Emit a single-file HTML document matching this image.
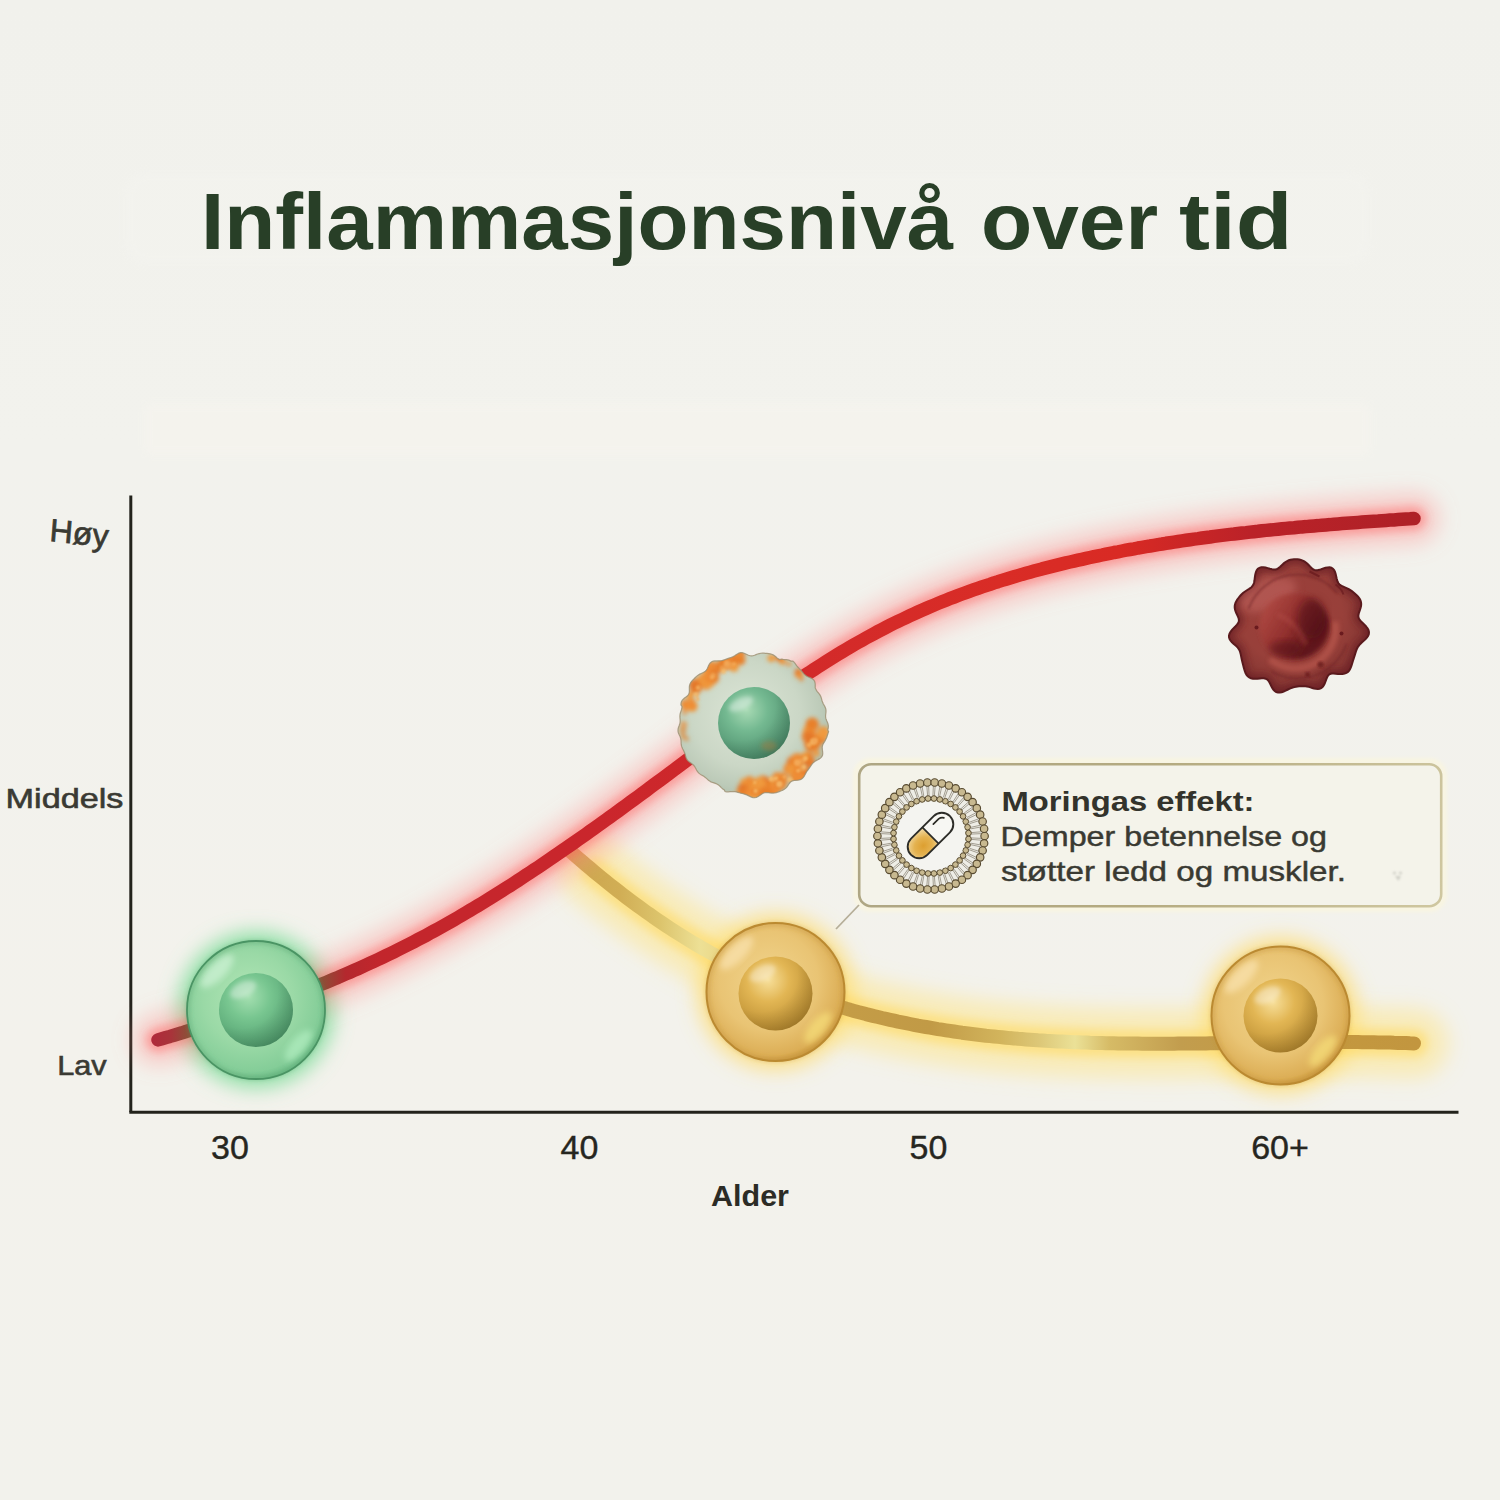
<!DOCTYPE html>
<html><head><meta charset="utf-8"><title>Inflammasjonsnivå over tid</title>
<style>
html,body{margin:0;padding:0;background:#f2f2ec;}
body{width:1500px;height:1500px;overflow:hidden;}
svg{display:block;}
text{font-family:"Liberation Sans",sans-serif;}
</style></head><body>
<svg width="1500" height="1500" viewBox="0 0 1500 1500">
<defs>
<filter id="blur12" x="-50%" y="-50%" width="200%" height="200%"><feGaussianBlur stdDeviation="10"/></filter>
<filter id="blur6" x="-20%" y="-20%" width="140%" height="140%"><feGaussianBlur stdDeviation="6"/></filter>
<filter id="blur3" x="-20%" y="-20%" width="140%" height="140%"><feGaussianBlur stdDeviation="3"/></filter>
<filter id="blur4" x="-20%" y="-20%" width="140%" height="140%"><feGaussianBlur stdDeviation="4"/></filter>
<filter id="blur1" x="-20%" y="-20%" width="140%" height="140%"><feGaussianBlur stdDeviation="1"/></filter>
<filter id="blurB1" x="-50%" y="-50%" width="200%" height="200%"><feGaussianBlur stdDeviation="0.8"/></filter>
<filter id="blurB2" x="-50%" y="-50%" width="200%" height="200%"><feGaussianBlur stdDeviation="2"/></filter>
<filter id="blur2" x="-50%" y="-50%" width="200%" height="200%"><feGaussianBlur stdDeviation="2"/></filter>
<linearGradient id="goldLine" gradientUnits="userSpaceOnUse" x1="570" y1="0" x2="1420" y2="0"><stop offset="0.000" stop-color="#cba54c"/><stop offset="0.059" stop-color="#d1ae55"/><stop offset="0.106" stop-color="#dcc46c"/><stop offset="0.153" stop-color="#ede095"/><stop offset="0.224" stop-color="#e6c76c"/><stop offset="0.329" stop-color="#c49c46"/><stop offset="0.424" stop-color="#c19a46"/><stop offset="0.506" stop-color="#d2b45c"/><stop offset="0.553" stop-color="#ddc878"/><stop offset="0.594" stop-color="#ebe197"/><stop offset="0.635" stop-color="#d6bb66"/><stop offset="0.718" stop-color="#c29d4e"/><stop offset="0.859" stop-color="#c4983e"/><stop offset="1.000" stop-color="#c2963f"/></linearGradient>
<linearGradient id="redLine" gradientUnits="userSpaceOnUse" x1="150" y1="0" x2="1420" y2="0"><stop offset="0.000" stop-color="#b1283a"/><stop offset="0.017" stop-color="#a8343a"/><stop offset="0.030" stop-color="#8d5038"/><stop offset="0.134" stop-color="#8a5238"/><stop offset="0.154" stop-color="#b4282e"/><stop offset="0.181" stop-color="#c2262c"/><stop offset="0.354" stop-color="#ca262c"/><stop offset="0.512" stop-color="#d22a2a"/><stop offset="0.669" stop-color="#d92c26"/><stop offset="0.764" stop-color="#d92a24"/><stop offset="0.866" stop-color="#bb2228"/><stop offset="1.000" stop-color="#ae2127"/></linearGradient>
<linearGradient id="boxStroke" gradientUnits="userSpaceOnUse" x1="859" y1="764" x2="1441" y2="906">
<stop offset="0" stop-color="#aea684"/><stop offset="0.5" stop-color="#b4aa80"/><stop offset="1" stop-color="#cfc7a0"/>
</linearGradient>
<radialGradient id="capg" cx="0.55" cy="0.6" r="0.7">
<stop offset="0" stop-color="#dd9f30"/><stop offset="0.5" stop-color="#e4b250"/><stop offset="1" stop-color="#f2dba6"/>
</radialGradient>
<linearGradient id="bgGrad" x1="0" y1="0" x2="0" y2="1">
<stop offset="0" stop-color="#f1f1ec"/><stop offset="0.3" stop-color="#f2f2ed"/><stop offset="0.7" stop-color="#f3f2ec"/><stop offset="1" stop-color="#f2f2ec"/>
</linearGradient>
<radialGradient id="nucShade" cx="0.3" cy="0.25" r="0.9">
<stop offset="0.55" stop-color="#000" stop-opacity="0"/><stop offset="1" stop-color="#000" stop-opacity="0.18"/>
</radialGradient>
<radialGradient id="gOuter" cx="0.45" cy="0.42" r="0.6">
<stop offset="0" stop-color="#b2e6b6"/><stop offset="0.55" stop-color="#9ad9a6"/><stop offset="0.88" stop-color="#84cd98"/><stop offset="1" stop-color="#6cbc86"/>
</radialGradient>
<radialGradient id="gNuc" cx="0.4" cy="0.32" r="0.72">
<stop offset="0" stop-color="#a4dfb0"/><stop offset="0.4" stop-color="#78c690"/><stop offset="1" stop-color="#4f9d6d"/>
</radialGradient>
<radialGradient id="oOuter" cx="0.45" cy="0.42" r="0.6">
<stop offset="0" stop-color="#dce5d6"/><stop offset="0.6" stop-color="#cbd7c6"/><stop offset="0.85" stop-color="#bccab8"/><stop offset="1" stop-color="#aebdaa"/>
</radialGradient>
<radialGradient id="oNuc" cx="0.4" cy="0.32" r="0.72">
<stop offset="0" stop-color="#a8dab4"/><stop offset="0.4" stop-color="#74b991"/><stop offset="1" stop-color="#4a8c6a"/>
</radialGradient>
<radialGradient id="yOuter" cx="0.45" cy="0.42" r="0.6">
<stop offset="0" stop-color="#f1d48c"/><stop offset="0.6" stop-color="#e9c474"/><stop offset="0.9" stop-color="#dcae56"/><stop offset="1" stop-color="#c9973c"/>
</radialGradient>
<radialGradient id="yNuc" cx="0.4" cy="0.32" r="0.72">
<stop offset="0" stop-color="#f7df9a"/><stop offset="0.4" stop-color="#e2b654"/><stop offset="1" stop-color="#b88a2e"/>
</radialGradient>
<radialGradient id="rCell" cx="0.45" cy="0.42" r="0.6">
<stop offset="0" stop-color="#9c3e3a"/><stop offset="0.6" stop-color="#98403a"/><stop offset="0.85" stop-color="#883834"/><stop offset="1" stop-color="#72282a"/>
</radialGradient>
<linearGradient id="rCrater" x1="0" y1="0.2" x2="1" y2="0.8">
<stop offset="0" stop-color="#b24c44"/><stop offset="0.45" stop-color="#92302e"/><stop offset="0.8" stop-color="#5e161a"/><stop offset="1" stop-color="#6e1e20"/>
</linearGradient>
<radialGradient id="rNuc" cx="0.55" cy="0.45" r="0.6">
<stop offset="0" stop-color="#6e1b1f"/><stop offset="0.7" stop-color="#7f2629"/><stop offset="1" stop-color="#9a4042"/>
</radialGradient>
</defs>
<rect x="0" y="0" width="1500" height="1500" fill="url(#bgGrad)"/>
<rect x="125" y="172" width="1245" height="92" rx="20" fill="#f5f5f1" opacity="0.35" filter="url(#blur4)"/>
<rect x="145" y="404" width="1225" height="50" fill="#f8f5ef" opacity="0.45" filter="url(#blur4)"/>

<g font-size="80" font-weight="bold" fill="#283f27"><text x="201" y="249" textLength="752.1" lengthAdjust="spacingAndGlyphs">Inflammasjonsnivå</text> <text x="981" y="249" textLength="177.1" lengthAdjust="spacingAndGlyphs">over</text> <text x="1179" y="249" textLength="113.7" lengthAdjust="spacingAndGlyphs">tid</text></g>

<!-- axes -->
<line x1="130.8" y1="495.5" x2="130.8" y2="1112" stroke="#23231c" stroke-width="3"/>
<line x1="129.3" y1="1112.2" x2="1458.5" y2="1112.2" stroke="#23231c" stroke-width="3"/>

<!-- y labels -->
<g transform="translate(49 541) rotate(6) skewX(1.5)"><text x="0" y="0" font-size="32" fill="#3a3a33" stroke="#3a3a33" stroke-width="0.7" textLength="59" lengthAdjust="spacingAndGlyphs">Høy</text></g>
<text x="5.5" y="808" font-size="28.5" fill="#3a3a33" stroke="#3a3a33" stroke-width="0.6" textLength="118" lengthAdjust="spacingAndGlyphs">Middels</text>
<text x="57.2" y="1075" font-size="28" fill="#3a3a33" stroke="#3a3a33" stroke-width="0.6" textLength="49.5" lengthAdjust="spacingAndGlyphs">Lav</text>

<!-- x labels -->
<text x="230" y="1159" font-size="34" fill="#262620" stroke="#262620" stroke-width="0.4" text-anchor="middle">30</text>
<text x="579.5" y="1159" font-size="34" fill="#262620" stroke="#262620" stroke-width="0.4" text-anchor="middle">40</text>
<text x="928.5" y="1159" font-size="34" fill="#262620" stroke="#262620" stroke-width="0.4" text-anchor="middle">50</text>
<text x="1280" y="1159" font-size="34" fill="#262620" stroke="#262620" stroke-width="0.4" text-anchor="middle">60+</text>
<text x="750" y="1206" font-size="29" font-weight="bold" fill="#2c2c26" text-anchor="middle" textLength="78" lengthAdjust="spacingAndGlyphs">Alder</text>

<!-- glows -->
<circle cx="256" cy="1010" r="78" fill="#6fd98f" fill-opacity="0.75" filter="url(#blur12)"/>
<circle cx="775.5" cy="992" r="78" fill="#ffd862" fill-opacity="0.7" filter="url(#blur12)"/>
<circle cx="1280.5" cy="1015.5" r="78" fill="#ffd862" fill-opacity="0.7" filter="url(#blur12)"/>

<!-- gold curve -->
<path d="M594.0,871.6 L598.0,874.9 L602.0,878.1 L606.0,881.4 L610.0,884.6 L614.0,887.8 L618.0,890.9 L622.0,894.0 L626.0,897.1 L630.0,900.1 L634.0,903.1 L638.0,906.0 L642.0,908.9 L646.0,911.8 L650.0,914.6 L654.0,917.4 L658.0,920.2 L662.0,922.9 L666.0,925.6 L670.0,928.3 L674.0,930.9 L678.0,933.4 L682.0,935.9 L686.0,938.4 L690.0,940.9 L694.0,943.3 L698.0,945.6 L702.0,948.0 L706.0,950.2 L710.0,952.5 L714.0,954.7 L718.0,956.9 L722.0,959.0 L726.0,961.1 L730.0,963.1 L734.0,965.2 L738.0,967.2 L742.0,969.1 L746.0,971.0 L750.0,972.9 L754.0,974.7 L758.0,976.6 L762.0,978.3 L766.0,980.1 L770.0,981.8 L774.0,983.5 L778.0,985.1 L782.0,986.7 L786.0,988.3 L790.0,989.9 L794.0,991.4 L798.0,992.9 L802.0,994.4 L806.0,995.8 L810.0,997.2 L814.0,998.6 L818.0,999.9 L822.0,1001.3 L826.0,1002.5 L830.0,1003.8 L834.0,1005.1 L838.0,1006.3 L842.0,1007.5 L846.0,1008.6 L850.0,1009.8 L854.0,1010.9 L858.0,1012.0 L862.0,1013.0 L866.0,1014.1 L870.0,1015.1 L874.0,1016.1 L878.0,1017.0 L882.0,1018.0 L886.0,1018.9 L890.0,1019.8 L894.0,1020.7 L898.0,1021.6 L902.0,1022.4 L906.0,1023.2 L910.0,1024.0 L914.0,1024.8 L918.0,1025.6 L922.0,1026.3 L926.0,1027.0 L930.0,1027.7 L934.0,1028.4 L938.0,1029.1 L942.0,1029.7 L946.0,1030.3 L950.0,1030.9 L954.0,1031.5 L958.0,1032.1 L962.0,1032.7 L966.0,1033.2 L970.0,1033.7 L974.0,1034.2 L978.0,1034.7 L982.0,1035.2 L986.0,1035.7 L990.0,1036.1 L994.0,1036.5 L998.0,1036.9 L1002.0,1037.3 L1006.0,1037.7 L1010.0,1038.1 L1014.0,1038.4 L1018.0,1038.8 L1022.0,1039.1 L1026.0,1039.4 L1030.0,1039.7 L1034.0,1040.0 L1038.0,1040.3 L1042.0,1040.5 L1046.0,1040.8 L1050.0,1041.0 L1054.0,1041.2 L1058.0,1041.4 L1062.0,1041.6 L1066.0,1041.8 L1070.0,1042.0 L1074.0,1042.2 L1078.0,1042.3 L1082.0,1042.5 L1086.0,1042.6 L1090.0,1042.8 L1094.0,1042.9 L1098.0,1043.0 L1102.0,1043.1 L1106.0,1043.2 L1110.0,1043.3 L1114.0,1043.3 L1118.0,1043.4 L1122.0,1043.5 L1126.0,1043.5 L1130.0,1043.6 L1134.0,1043.6 L1138.0,1043.6 L1142.0,1043.7 L1146.0,1043.7 L1150.0,1043.7 L1154.0,1043.7 L1158.0,1043.7 L1162.0,1043.7 L1166.0,1043.7 L1170.0,1043.7 L1174.0,1043.7 L1178.0,1043.6 L1182.0,1043.6 L1186.0,1043.6 L1190.0,1043.6 L1194.0,1043.5 L1198.0,1043.5 L1202.0,1043.4 L1206.0,1043.4 L1210.0,1043.3 L1214.0,1043.3 L1218.0,1043.2 L1222.0,1043.2 L1226.0,1043.1 L1230.0,1043.1 L1234.0,1043.0 L1238.0,1043.0 L1242.0,1042.9 L1246.0,1042.8 L1250.0,1042.8 L1254.0,1042.7 L1258.0,1042.7 L1262.0,1042.6 L1266.0,1042.6 L1270.0,1042.5 L1274.0,1042.5 L1278.0,1042.4 L1282.0,1042.4 L1286.0,1042.3 L1290.0,1042.3 L1294.0,1042.2 L1298.0,1042.2 L1302.0,1042.1 L1306.0,1042.1 L1310.0,1042.1 L1314.0,1042.1 L1318.0,1042.0 L1322.0,1042.0 L1326.0,1042.0 L1330.0,1042.0 L1334.0,1042.0 L1338.0,1042.0 L1342.0,1042.0 L1346.0,1042.0 L1350.0,1042.1 L1354.0,1042.1 L1358.0,1042.1 L1362.0,1042.2 L1366.0,1042.2 L1370.0,1042.3 L1374.0,1042.3 L1378.0,1042.4 L1382.0,1042.5 L1386.0,1042.6 L1390.0,1042.6 L1394.0,1042.8 L1398.0,1042.9 L1402.0,1043.0 L1406.0,1043.1 L1410.0,1043.3 L1414.0,1043.4" fill="none" stroke="#ffe27a" stroke-opacity="0.45" stroke-width="70" stroke-linecap="round" stroke-linejoin="round" filter="url(#blur12)"/>
<path d="M594.0,871.6 L598.0,874.9 L602.0,878.1 L606.0,881.4 L610.0,884.6 L614.0,887.8 L618.0,890.9 L622.0,894.0 L626.0,897.1 L630.0,900.1 L634.0,903.1 L638.0,906.0 L642.0,908.9 L646.0,911.8 L650.0,914.6 L654.0,917.4 L658.0,920.2 L662.0,922.9 L666.0,925.6 L670.0,928.3 L674.0,930.9 L678.0,933.4 L682.0,935.9 L686.0,938.4 L690.0,940.9 L694.0,943.3 L698.0,945.6 L702.0,948.0 L706.0,950.2 L710.0,952.5 L714.0,954.7 L718.0,956.9 L722.0,959.0 L726.0,961.1 L730.0,963.1 L734.0,965.2 L738.0,967.2 L742.0,969.1 L746.0,971.0 L750.0,972.9 L754.0,974.7 L758.0,976.6 L762.0,978.3 L766.0,980.1 L770.0,981.8 L774.0,983.5 L778.0,985.1 L782.0,986.7 L786.0,988.3 L790.0,989.9 L794.0,991.4 L798.0,992.9 L802.0,994.4 L806.0,995.8 L810.0,997.2 L814.0,998.6 L818.0,999.9 L822.0,1001.3 L826.0,1002.5 L830.0,1003.8 L834.0,1005.1 L838.0,1006.3 L842.0,1007.5 L846.0,1008.6 L850.0,1009.8 L854.0,1010.9 L858.0,1012.0 L862.0,1013.0 L866.0,1014.1 L870.0,1015.1 L874.0,1016.1 L878.0,1017.0 L882.0,1018.0 L886.0,1018.9 L890.0,1019.8 L894.0,1020.7 L898.0,1021.6 L902.0,1022.4 L906.0,1023.2 L910.0,1024.0 L914.0,1024.8 L918.0,1025.6 L922.0,1026.3 L926.0,1027.0 L930.0,1027.7 L934.0,1028.4 L938.0,1029.1 L942.0,1029.7 L946.0,1030.3 L950.0,1030.9 L954.0,1031.5 L958.0,1032.1 L962.0,1032.7 L966.0,1033.2 L970.0,1033.7 L974.0,1034.2 L978.0,1034.7 L982.0,1035.2 L986.0,1035.7 L990.0,1036.1 L994.0,1036.5 L998.0,1036.9 L1002.0,1037.3 L1006.0,1037.7 L1010.0,1038.1 L1014.0,1038.4 L1018.0,1038.8 L1022.0,1039.1 L1026.0,1039.4 L1030.0,1039.7 L1034.0,1040.0 L1038.0,1040.3 L1042.0,1040.5 L1046.0,1040.8 L1050.0,1041.0 L1054.0,1041.2 L1058.0,1041.4 L1062.0,1041.6 L1066.0,1041.8 L1070.0,1042.0 L1074.0,1042.2 L1078.0,1042.3 L1082.0,1042.5 L1086.0,1042.6 L1090.0,1042.8 L1094.0,1042.9 L1098.0,1043.0 L1102.0,1043.1 L1106.0,1043.2 L1110.0,1043.3 L1114.0,1043.3 L1118.0,1043.4 L1122.0,1043.5 L1126.0,1043.5 L1130.0,1043.6 L1134.0,1043.6 L1138.0,1043.6 L1142.0,1043.7 L1146.0,1043.7 L1150.0,1043.7 L1154.0,1043.7 L1158.0,1043.7 L1162.0,1043.7 L1166.0,1043.7 L1170.0,1043.7 L1174.0,1043.7 L1178.0,1043.6 L1182.0,1043.6 L1186.0,1043.6 L1190.0,1043.6 L1194.0,1043.5 L1198.0,1043.5 L1202.0,1043.4 L1206.0,1043.4 L1210.0,1043.3 L1214.0,1043.3 L1218.0,1043.2 L1222.0,1043.2 L1226.0,1043.1 L1230.0,1043.1 L1234.0,1043.0 L1238.0,1043.0 L1242.0,1042.9 L1246.0,1042.8 L1250.0,1042.8 L1254.0,1042.7 L1258.0,1042.7 L1262.0,1042.6 L1266.0,1042.6 L1270.0,1042.5 L1274.0,1042.5 L1278.0,1042.4 L1282.0,1042.4 L1286.0,1042.3 L1290.0,1042.3 L1294.0,1042.2 L1298.0,1042.2 L1302.0,1042.1 L1306.0,1042.1 L1310.0,1042.1 L1314.0,1042.1 L1318.0,1042.0 L1322.0,1042.0 L1326.0,1042.0 L1330.0,1042.0 L1334.0,1042.0 L1338.0,1042.0 L1342.0,1042.0 L1346.0,1042.0 L1350.0,1042.1 L1354.0,1042.1 L1358.0,1042.1 L1362.0,1042.2 L1366.0,1042.2 L1370.0,1042.3 L1374.0,1042.3 L1378.0,1042.4 L1382.0,1042.5 L1386.0,1042.6 L1390.0,1042.6 L1394.0,1042.8 L1398.0,1042.9 L1402.0,1043.0 L1406.0,1043.1 L1410.0,1043.3 L1414.0,1043.4" fill="none" stroke="#ffd95e" stroke-opacity="0.55" stroke-width="28" stroke-linecap="round" stroke-linejoin="round" filter="url(#blur4)"/>
<path d="M570.0,851.0 L574.0,854.5 L578.0,858.0 L582.0,861.4 L586.0,864.8 L590.0,868.2 L594.0,871.6 L598.0,874.9 L602.0,878.1 L606.0,881.4 L610.0,884.6 L614.0,887.8 L618.0,890.9 L622.0,894.0 L626.0,897.1 L630.0,900.1 L634.0,903.1 L638.0,906.0 L642.0,908.9 L646.0,911.8 L650.0,914.6 L654.0,917.4 L658.0,920.2 L662.0,922.9 L666.0,925.6 L670.0,928.3 L674.0,930.9 L678.0,933.4 L682.0,935.9 L686.0,938.4 L690.0,940.9 L694.0,943.3 L698.0,945.6 L702.0,948.0 L706.0,950.2 L710.0,952.5 L714.0,954.7 L718.0,956.9 L722.0,959.0 L726.0,961.1 L730.0,963.1 L734.0,965.2 L738.0,967.2 L742.0,969.1 L746.0,971.0 L750.0,972.9 L754.0,974.7 L758.0,976.6 L762.0,978.3 L766.0,980.1 L770.0,981.8 L774.0,983.5 L778.0,985.1 L782.0,986.7 L786.0,988.3 L790.0,989.9 L794.0,991.4 L798.0,992.9 L802.0,994.4 L806.0,995.8 L810.0,997.2 L814.0,998.6 L818.0,999.9 L822.0,1001.3 L826.0,1002.5 L830.0,1003.8 L834.0,1005.1 L838.0,1006.3 L842.0,1007.5 L846.0,1008.6 L850.0,1009.8 L854.0,1010.9 L858.0,1012.0 L862.0,1013.0 L866.0,1014.1 L870.0,1015.1 L874.0,1016.1 L878.0,1017.0 L882.0,1018.0 L886.0,1018.9 L890.0,1019.8 L894.0,1020.7 L898.0,1021.6 L902.0,1022.4 L906.0,1023.2 L910.0,1024.0 L914.0,1024.8 L918.0,1025.6 L922.0,1026.3 L926.0,1027.0 L930.0,1027.7 L934.0,1028.4 L938.0,1029.1 L942.0,1029.7 L946.0,1030.3 L950.0,1030.9 L954.0,1031.5 L958.0,1032.1 L962.0,1032.7 L966.0,1033.2 L970.0,1033.7 L974.0,1034.2 L978.0,1034.7 L982.0,1035.2 L986.0,1035.7 L990.0,1036.1 L994.0,1036.5 L998.0,1036.9 L1002.0,1037.3 L1006.0,1037.7 L1010.0,1038.1 L1014.0,1038.4 L1018.0,1038.8 L1022.0,1039.1 L1026.0,1039.4 L1030.0,1039.7 L1034.0,1040.0 L1038.0,1040.3 L1042.0,1040.5 L1046.0,1040.8 L1050.0,1041.0 L1054.0,1041.2 L1058.0,1041.4 L1062.0,1041.6 L1066.0,1041.8 L1070.0,1042.0 L1074.0,1042.2 L1078.0,1042.3 L1082.0,1042.5 L1086.0,1042.6 L1090.0,1042.8 L1094.0,1042.9 L1098.0,1043.0 L1102.0,1043.1 L1106.0,1043.2 L1110.0,1043.3 L1114.0,1043.3 L1118.0,1043.4 L1122.0,1043.5 L1126.0,1043.5 L1130.0,1043.6 L1134.0,1043.6 L1138.0,1043.6 L1142.0,1043.7 L1146.0,1043.7 L1150.0,1043.7 L1154.0,1043.7 L1158.0,1043.7 L1162.0,1043.7 L1166.0,1043.7 L1170.0,1043.7 L1174.0,1043.7 L1178.0,1043.6 L1182.0,1043.6 L1186.0,1043.6 L1190.0,1043.6 L1194.0,1043.5 L1198.0,1043.5 L1202.0,1043.4 L1206.0,1043.4 L1210.0,1043.3 L1214.0,1043.3 L1218.0,1043.2 L1222.0,1043.2 L1226.0,1043.1 L1230.0,1043.1 L1234.0,1043.0 L1238.0,1043.0 L1242.0,1042.9 L1246.0,1042.8 L1250.0,1042.8 L1254.0,1042.7 L1258.0,1042.7 L1262.0,1042.6 L1266.0,1042.6 L1270.0,1042.5 L1274.0,1042.5 L1278.0,1042.4 L1282.0,1042.4 L1286.0,1042.3 L1290.0,1042.3 L1294.0,1042.2 L1298.0,1042.2 L1302.0,1042.1 L1306.0,1042.1 L1310.0,1042.1 L1314.0,1042.1 L1318.0,1042.0 L1322.0,1042.0 L1326.0,1042.0 L1330.0,1042.0 L1334.0,1042.0 L1338.0,1042.0 L1342.0,1042.0 L1346.0,1042.0 L1350.0,1042.1 L1354.0,1042.1 L1358.0,1042.1 L1362.0,1042.2 L1366.0,1042.2 L1370.0,1042.3 L1374.0,1042.3 L1378.0,1042.4 L1382.0,1042.5 L1386.0,1042.6 L1390.0,1042.6 L1394.0,1042.8 L1398.0,1042.9 L1402.0,1043.0 L1406.0,1043.1 L1410.0,1043.3 L1414.0,1043.4" fill="none" stroke="url(#goldLine)" stroke-width="14" stroke-linecap="round" stroke-linejoin="round"/>

<!-- red curve -->
<path d="M158.0,1039.9 L162.0,1038.7 L166.0,1037.5 L170.0,1036.4 L174.0,1035.2 L178.0,1034.0 L182.0,1032.8 L186.0,1031.5 L190.0,1030.3 L194.0,1029.1 L198.0,1027.8 L202.0,1026.6 L206.0,1025.3 L210.0,1024.1 L214.0,1022.8 L218.0,1021.5 L222.0,1020.2 L226.0,1018.9 L230.0,1017.6 L234.0,1016.3 L238.0,1015.0 L242.0,1013.6 L246.0,1012.3 L250.0,1010.9 L254.0,1009.5 L258.0,1008.1 L262.0,1006.7 L266.0,1005.3 L270.0,1003.9 L274.0,1002.4 L278.0,1001.0 L282.0,999.5 L286.0,998.0 L290.0,996.5 L294.0,995.0 L298.0,993.5 L302.0,991.9 L306.0,990.4 L310.0,988.8 L314.0,987.2 L318.0,985.6 L322.0,984.0 L326.0,982.4 L330.0,980.7 L334.0,979.0 L338.0,977.4 L342.0,975.6 L346.0,973.9 L350.0,972.2 L354.0,970.4 L358.0,968.7 L362.0,966.9 L366.0,965.0 L370.0,963.2 L374.0,961.4 L378.0,959.5 L382.0,957.6 L386.0,955.7 L390.0,953.7 L394.0,951.8 L398.0,949.8 L402.0,947.8 L406.0,945.8 L410.0,943.8 L414.0,941.7 L418.0,939.6 L422.0,937.5 L426.0,935.4 L430.0,933.2 L434.0,931.0 L438.0,928.8 L442.0,926.6 L446.0,924.4 L450.0,922.1 L454.0,919.8 L458.0,917.5 L462.0,915.2 L466.0,912.8 L470.0,910.4 L474.0,908.0 L478.0,905.6 L482.0,903.2 L486.0,900.8 L490.0,898.3 L494.0,895.8 L498.0,893.3 L502.0,890.8 L506.0,888.2 L510.0,885.7 L514.0,883.1 L518.0,880.5 L522.0,877.9 L526.0,875.2 L530.0,872.6 L534.0,869.9 L538.0,867.3 L542.0,864.6 L546.0,861.9 L550.0,859.2 L554.0,856.4 L558.0,853.7 L562.0,850.9 L566.0,848.2 L570.0,845.4 L574.0,842.6 L578.0,839.8 L582.0,837.0 L586.0,834.2 L590.0,831.3 L594.0,828.5 L598.0,825.6 L602.0,822.8 L606.0,819.9 L610.0,817.0 L614.0,814.1 L618.0,811.2 L622.0,808.3 L626.0,805.4 L630.0,802.4 L634.0,799.5 L638.0,796.6 L642.0,793.6 L646.0,790.7 L650.0,787.7 L654.0,784.7 L658.0,781.8 L662.0,778.8 L666.0,775.8 L670.0,772.8 L674.0,769.9 L678.0,766.9 L682.0,763.9 L686.0,760.9 L690.0,757.9 L694.0,754.9 L698.0,751.9 L702.0,748.9 L706.0,746.0 L710.0,743.0 L714.0,740.0 L718.0,737.1 L722.0,734.1 L726.0,731.1 L730.0,728.2 L734.0,725.3 L738.0,722.3 L742.0,719.4 L746.0,716.5 L750.0,713.6 L754.0,710.7 L758.0,707.9 L762.0,705.0 L766.0,702.2 L770.0,699.3 L774.0,696.5 L778.0,693.7 L782.0,690.9 L786.0,688.2 L790.0,685.5 L794.0,682.7 L798.0,680.0 L802.0,677.4 L806.0,674.7 L810.0,672.1 L814.0,669.5 L818.0,666.9 L822.0,664.3 L826.0,661.8 L830.0,659.3 L834.0,656.8 L838.0,654.3 L842.0,651.9 L846.0,649.5 L850.0,647.2 L854.0,644.8 L858.0,642.5 L862.0,640.3 L866.0,638.0 L870.0,635.8 L874.0,633.7 L878.0,631.5 L882.0,629.4 L886.0,627.4 L890.0,625.3 L894.0,623.3 L898.0,621.4 L902.0,619.5 L906.0,617.6 L910.0,615.7 L914.0,613.8 L918.0,612.0 L922.0,610.3 L926.0,608.5 L930.0,606.8 L934.0,605.1 L938.0,603.4 L942.0,601.8 L946.0,600.2 L950.0,598.6 L954.0,597.1 L958.0,595.5 L962.0,594.0 L966.0,592.6 L970.0,591.1 L974.0,589.7 L978.0,588.3 L982.0,586.9 L986.0,585.6 L990.0,584.3 L994.0,582.9 L998.0,581.7 L1002.0,580.4 L1006.0,579.2 L1010.0,578.0 L1014.0,576.8 L1018.0,575.6 L1022.0,574.4 L1026.0,573.3 L1030.0,572.2 L1034.0,571.1 L1038.0,570.0 L1042.0,568.9 L1046.0,567.9 L1050.0,566.9 L1054.0,565.9 L1058.0,564.9 L1062.0,563.9 L1066.0,562.9 L1070.0,562.0 L1074.0,561.1 L1078.0,560.2 L1082.0,559.3 L1086.0,558.4 L1090.0,557.5 L1094.0,556.6 L1098.0,555.8 L1102.0,555.0 L1106.0,554.1 L1110.0,553.3 L1114.0,552.5 L1118.0,551.8 L1122.0,551.0 L1126.0,550.2 L1130.0,549.5 L1134.0,548.8 L1138.0,548.0 L1142.0,547.3 L1146.0,546.6 L1150.0,546.0 L1154.0,545.3 L1158.0,544.6 L1162.0,544.0 L1166.0,543.3 L1170.0,542.7 L1174.0,542.1 L1178.0,541.5 L1182.0,540.9 L1186.0,540.3 L1190.0,539.7 L1194.0,539.1 L1198.0,538.6 L1202.0,538.0 L1206.0,537.5 L1210.0,537.0 L1214.0,536.4 L1218.0,535.9 L1222.0,535.4 L1226.0,534.9 L1230.0,534.4 L1234.0,534.0 L1238.0,533.5 L1242.0,533.0 L1246.0,532.6 L1250.0,532.1 L1254.0,531.7 L1258.0,531.3 L1262.0,530.8 L1266.0,530.4 L1270.0,530.0 L1274.0,529.6 L1278.0,529.2 L1282.0,528.8 L1286.0,528.4 L1290.0,528.0 L1294.0,527.7 L1298.0,527.3 L1302.0,526.9 L1306.0,526.6 L1310.0,526.2 L1314.0,525.9 L1318.0,525.6 L1322.0,525.2 L1326.0,524.9 L1330.0,524.6 L1334.0,524.2 L1338.0,523.9 L1342.0,523.6 L1346.0,523.3 L1350.0,523.0 L1354.0,522.7 L1358.0,522.4 L1362.0,522.1 L1366.0,521.8 L1370.0,521.5 L1374.0,521.2 L1378.0,521.0 L1382.0,520.7 L1386.0,520.4 L1390.0,520.1 L1394.0,519.9 L1398.0,519.6 L1402.0,519.3 L1406.0,519.0 L1410.0,518.8 L1414.0,518.5" fill="none" stroke="#ff8a8a" stroke-opacity="0.35" stroke-width="52" stroke-linecap="round" stroke-linejoin="round" filter="url(#blur12)"/>
<path d="M158.0,1039.9 L162.0,1038.7 L166.0,1037.5 L170.0,1036.4 L174.0,1035.2 L178.0,1034.0 L182.0,1032.8 L186.0,1031.5 L190.0,1030.3 L194.0,1029.1 L198.0,1027.8 L202.0,1026.6 L206.0,1025.3 L210.0,1024.1 L214.0,1022.8 L218.0,1021.5 L222.0,1020.2 L226.0,1018.9 L230.0,1017.6 L234.0,1016.3 L238.0,1015.0 L242.0,1013.6 L246.0,1012.3 L250.0,1010.9 L254.0,1009.5 L258.0,1008.1 L262.0,1006.7 L266.0,1005.3 L270.0,1003.9 L274.0,1002.4 L278.0,1001.0 L282.0,999.5 L286.0,998.0 L290.0,996.5 L294.0,995.0 L298.0,993.5 L302.0,991.9 L306.0,990.4 L310.0,988.8 L314.0,987.2 L318.0,985.6 L322.0,984.0 L326.0,982.4 L330.0,980.7 L334.0,979.0 L338.0,977.4 L342.0,975.6 L346.0,973.9 L350.0,972.2 L354.0,970.4 L358.0,968.7 L362.0,966.9 L366.0,965.0 L370.0,963.2 L374.0,961.4 L378.0,959.5 L382.0,957.6 L386.0,955.7 L390.0,953.7 L394.0,951.8 L398.0,949.8 L402.0,947.8 L406.0,945.8 L410.0,943.8 L414.0,941.7 L418.0,939.6 L422.0,937.5 L426.0,935.4 L430.0,933.2 L434.0,931.0 L438.0,928.8 L442.0,926.6 L446.0,924.4 L450.0,922.1 L454.0,919.8 L458.0,917.5 L462.0,915.2 L466.0,912.8 L470.0,910.4 L474.0,908.0 L478.0,905.6 L482.0,903.2 L486.0,900.8 L490.0,898.3 L494.0,895.8 L498.0,893.3 L502.0,890.8 L506.0,888.2 L510.0,885.7 L514.0,883.1 L518.0,880.5 L522.0,877.9 L526.0,875.2 L530.0,872.6 L534.0,869.9 L538.0,867.3 L542.0,864.6 L546.0,861.9 L550.0,859.2 L554.0,856.4 L558.0,853.7 L562.0,850.9 L566.0,848.2 L570.0,845.4 L574.0,842.6 L578.0,839.8 L582.0,837.0 L586.0,834.2 L590.0,831.3 L594.0,828.5 L598.0,825.6 L602.0,822.8 L606.0,819.9 L610.0,817.0 L614.0,814.1 L618.0,811.2 L622.0,808.3 L626.0,805.4 L630.0,802.4 L634.0,799.5 L638.0,796.6 L642.0,793.6 L646.0,790.7 L650.0,787.7 L654.0,784.7 L658.0,781.8 L662.0,778.8 L666.0,775.8 L670.0,772.8 L674.0,769.9 L678.0,766.9 L682.0,763.9 L686.0,760.9 L690.0,757.9 L694.0,754.9 L698.0,751.9 L702.0,748.9 L706.0,746.0 L710.0,743.0 L714.0,740.0 L718.0,737.1 L722.0,734.1 L726.0,731.1 L730.0,728.2 L734.0,725.3 L738.0,722.3 L742.0,719.4 L746.0,716.5 L750.0,713.6 L754.0,710.7 L758.0,707.9 L762.0,705.0 L766.0,702.2 L770.0,699.3 L774.0,696.5 L778.0,693.7 L782.0,690.9 L786.0,688.2 L790.0,685.5 L794.0,682.7 L798.0,680.0 L802.0,677.4 L806.0,674.7 L810.0,672.1 L814.0,669.5 L818.0,666.9 L822.0,664.3 L826.0,661.8 L830.0,659.3 L834.0,656.8 L838.0,654.3 L842.0,651.9 L846.0,649.5 L850.0,647.2 L854.0,644.8 L858.0,642.5 L862.0,640.3 L866.0,638.0 L870.0,635.8 L874.0,633.7 L878.0,631.5 L882.0,629.4 L886.0,627.4 L890.0,625.3 L894.0,623.3 L898.0,621.4 L902.0,619.5 L906.0,617.6 L910.0,615.7 L914.0,613.8 L918.0,612.0 L922.0,610.3 L926.0,608.5 L930.0,606.8 L934.0,605.1 L938.0,603.4 L942.0,601.8 L946.0,600.2 L950.0,598.6 L954.0,597.1 L958.0,595.5 L962.0,594.0 L966.0,592.6 L970.0,591.1 L974.0,589.7 L978.0,588.3 L982.0,586.9 L986.0,585.6 L990.0,584.3 L994.0,582.9 L998.0,581.7 L1002.0,580.4 L1006.0,579.2 L1010.0,578.0 L1014.0,576.8 L1018.0,575.6 L1022.0,574.4 L1026.0,573.3 L1030.0,572.2 L1034.0,571.1 L1038.0,570.0 L1042.0,568.9 L1046.0,567.9 L1050.0,566.9 L1054.0,565.9 L1058.0,564.9 L1062.0,563.9 L1066.0,562.9 L1070.0,562.0 L1074.0,561.1 L1078.0,560.2 L1082.0,559.3 L1086.0,558.4 L1090.0,557.5 L1094.0,556.6 L1098.0,555.8 L1102.0,555.0 L1106.0,554.1 L1110.0,553.3 L1114.0,552.5 L1118.0,551.8 L1122.0,551.0 L1126.0,550.2 L1130.0,549.5 L1134.0,548.8 L1138.0,548.0 L1142.0,547.3 L1146.0,546.6 L1150.0,546.0 L1154.0,545.3 L1158.0,544.6 L1162.0,544.0 L1166.0,543.3 L1170.0,542.7 L1174.0,542.1 L1178.0,541.5 L1182.0,540.9 L1186.0,540.3 L1190.0,539.7 L1194.0,539.1 L1198.0,538.6 L1202.0,538.0 L1206.0,537.5 L1210.0,537.0 L1214.0,536.4 L1218.0,535.9 L1222.0,535.4 L1226.0,534.9 L1230.0,534.4 L1234.0,534.0 L1238.0,533.5 L1242.0,533.0 L1246.0,532.6 L1250.0,532.1 L1254.0,531.7 L1258.0,531.3 L1262.0,530.8 L1266.0,530.4 L1270.0,530.0 L1274.0,529.6 L1278.0,529.2 L1282.0,528.8 L1286.0,528.4 L1290.0,528.0 L1294.0,527.7 L1298.0,527.3 L1302.0,526.9 L1306.0,526.6 L1310.0,526.2 L1314.0,525.9 L1318.0,525.6 L1322.0,525.2 L1326.0,524.9 L1330.0,524.6 L1334.0,524.2 L1338.0,523.9 L1342.0,523.6 L1346.0,523.3 L1350.0,523.0 L1354.0,522.7 L1358.0,522.4 L1362.0,522.1 L1366.0,521.8 L1370.0,521.5 L1374.0,521.2 L1378.0,521.0 L1382.0,520.7 L1386.0,520.4 L1390.0,520.1 L1394.0,519.9 L1398.0,519.6 L1402.0,519.3 L1406.0,519.0 L1410.0,518.8 L1414.0,518.5" fill="none" stroke="#ff5a5a" stroke-opacity="0.42" stroke-width="24" stroke-linecap="round" stroke-linejoin="round" filter="url(#blur4)"/>
<path d="M158.0,1039.9 L162.0,1038.7 L166.0,1037.5 L170.0,1036.4 L174.0,1035.2 L178.0,1034.0 L182.0,1032.8 L186.0,1031.5 L190.0,1030.3 L194.0,1029.1 L198.0,1027.8 L202.0,1026.6 L206.0,1025.3 L210.0,1024.1 L214.0,1022.8 L218.0,1021.5 L222.0,1020.2 L226.0,1018.9 L230.0,1017.6 L234.0,1016.3 L238.0,1015.0 L242.0,1013.6 L246.0,1012.3 L250.0,1010.9 L254.0,1009.5 L258.0,1008.1 L262.0,1006.7 L266.0,1005.3 L270.0,1003.9 L274.0,1002.4 L278.0,1001.0 L282.0,999.5 L286.0,998.0 L290.0,996.5 L294.0,995.0 L298.0,993.5 L302.0,991.9 L306.0,990.4 L310.0,988.8 L314.0,987.2 L318.0,985.6 L322.0,984.0 L326.0,982.4 L330.0,980.7 L334.0,979.0 L338.0,977.4 L342.0,975.6 L346.0,973.9 L350.0,972.2 L354.0,970.4 L358.0,968.7 L362.0,966.9 L366.0,965.0 L370.0,963.2 L374.0,961.4 L378.0,959.5 L382.0,957.6 L386.0,955.7 L390.0,953.7 L394.0,951.8 L398.0,949.8 L402.0,947.8 L406.0,945.8 L410.0,943.8 L414.0,941.7 L418.0,939.6 L422.0,937.5 L426.0,935.4 L430.0,933.2 L434.0,931.0 L438.0,928.8 L442.0,926.6 L446.0,924.4 L450.0,922.1 L454.0,919.8 L458.0,917.5 L462.0,915.2 L466.0,912.8 L470.0,910.4 L474.0,908.0 L478.0,905.6 L482.0,903.2 L486.0,900.8 L490.0,898.3 L494.0,895.8 L498.0,893.3 L502.0,890.8 L506.0,888.2 L510.0,885.7 L514.0,883.1 L518.0,880.5 L522.0,877.9 L526.0,875.2 L530.0,872.6 L534.0,869.9 L538.0,867.3 L542.0,864.6 L546.0,861.9 L550.0,859.2 L554.0,856.4 L558.0,853.7 L562.0,850.9 L566.0,848.2 L570.0,845.4 L574.0,842.6 L578.0,839.8 L582.0,837.0 L586.0,834.2 L590.0,831.3 L594.0,828.5 L598.0,825.6 L602.0,822.8 L606.0,819.9 L610.0,817.0 L614.0,814.1 L618.0,811.2 L622.0,808.3 L626.0,805.4 L630.0,802.4 L634.0,799.5 L638.0,796.6 L642.0,793.6 L646.0,790.7 L650.0,787.7 L654.0,784.7 L658.0,781.8 L662.0,778.8 L666.0,775.8 L670.0,772.8 L674.0,769.9 L678.0,766.9 L682.0,763.9 L686.0,760.9 L690.0,757.9 L694.0,754.9 L698.0,751.9 L702.0,748.9 L706.0,746.0 L710.0,743.0 L714.0,740.0 L718.0,737.1 L722.0,734.1 L726.0,731.1 L730.0,728.2 L734.0,725.3 L738.0,722.3 L742.0,719.4 L746.0,716.5 L750.0,713.6 L754.0,710.7 L758.0,707.9 L762.0,705.0 L766.0,702.2 L770.0,699.3 L774.0,696.5 L778.0,693.7 L782.0,690.9 L786.0,688.2 L790.0,685.5 L794.0,682.7 L798.0,680.0 L802.0,677.4 L806.0,674.7 L810.0,672.1 L814.0,669.5 L818.0,666.9 L822.0,664.3 L826.0,661.8 L830.0,659.3 L834.0,656.8 L838.0,654.3 L842.0,651.9 L846.0,649.5 L850.0,647.2 L854.0,644.8 L858.0,642.5 L862.0,640.3 L866.0,638.0 L870.0,635.8 L874.0,633.7 L878.0,631.5 L882.0,629.4 L886.0,627.4 L890.0,625.3 L894.0,623.3 L898.0,621.4 L902.0,619.5 L906.0,617.6 L910.0,615.7 L914.0,613.8 L918.0,612.0 L922.0,610.3 L926.0,608.5 L930.0,606.8 L934.0,605.1 L938.0,603.4 L942.0,601.8 L946.0,600.2 L950.0,598.6 L954.0,597.1 L958.0,595.5 L962.0,594.0 L966.0,592.6 L970.0,591.1 L974.0,589.7 L978.0,588.3 L982.0,586.9 L986.0,585.6 L990.0,584.3 L994.0,582.9 L998.0,581.7 L1002.0,580.4 L1006.0,579.2 L1010.0,578.0 L1014.0,576.8 L1018.0,575.6 L1022.0,574.4 L1026.0,573.3 L1030.0,572.2 L1034.0,571.1 L1038.0,570.0 L1042.0,568.9 L1046.0,567.9 L1050.0,566.9 L1054.0,565.9 L1058.0,564.9 L1062.0,563.9 L1066.0,562.9 L1070.0,562.0 L1074.0,561.1 L1078.0,560.2 L1082.0,559.3 L1086.0,558.4 L1090.0,557.5 L1094.0,556.6 L1098.0,555.8 L1102.0,555.0 L1106.0,554.1 L1110.0,553.3 L1114.0,552.5 L1118.0,551.8 L1122.0,551.0 L1126.0,550.2 L1130.0,549.5 L1134.0,548.8 L1138.0,548.0 L1142.0,547.3 L1146.0,546.6 L1150.0,546.0 L1154.0,545.3 L1158.0,544.6 L1162.0,544.0 L1166.0,543.3 L1170.0,542.7 L1174.0,542.1 L1178.0,541.5 L1182.0,540.9 L1186.0,540.3 L1190.0,539.7 L1194.0,539.1 L1198.0,538.6 L1202.0,538.0 L1206.0,537.5 L1210.0,537.0 L1214.0,536.4 L1218.0,535.9 L1222.0,535.4 L1226.0,534.9 L1230.0,534.4 L1234.0,534.0 L1238.0,533.5 L1242.0,533.0 L1246.0,532.6 L1250.0,532.1 L1254.0,531.7 L1258.0,531.3 L1262.0,530.8 L1266.0,530.4 L1270.0,530.0 L1274.0,529.6 L1278.0,529.2 L1282.0,528.8 L1286.0,528.4 L1290.0,528.0 L1294.0,527.7 L1298.0,527.3 L1302.0,526.9 L1306.0,526.6 L1310.0,526.2 L1314.0,525.9 L1318.0,525.6 L1322.0,525.2 L1326.0,524.9 L1330.0,524.6 L1334.0,524.2 L1338.0,523.9 L1342.0,523.6 L1346.0,523.3 L1350.0,523.0 L1354.0,522.7 L1358.0,522.4 L1362.0,522.1 L1366.0,521.8 L1370.0,521.5 L1374.0,521.2 L1378.0,521.0 L1382.0,520.7 L1386.0,520.4 L1390.0,520.1 L1394.0,519.9 L1398.0,519.6 L1402.0,519.3 L1406.0,519.0 L1410.0,518.8 L1414.0,518.5" fill="none" stroke="url(#redLine)" stroke-width="13.5" stroke-linecap="round" stroke-linejoin="round"/>

<!-- cells -->
<circle cx="256" cy="1010" r="69" fill="url(#gOuter)" stroke="#4a9464" stroke-width="1.8"/>
<ellipse cx="217.0" cy="971.0" rx="22.1" ry="8.3" transform="rotate(-45 217.0 971.0)" fill="#e0fbe6" fill-opacity="0.55" filter="url(#blur3)"/>
<ellipse cx="298.3" cy="1045.5" rx="19.3" ry="7.6" transform="rotate(-50 298.3 1045.5)" fill="#c0f7cc" fill-opacity="0.55" filter="url(#blur3)"/>
<circle cx="256" cy="1010" r="68" fill="none" stroke="#4a9464" stroke-opacity="0.35" stroke-width="4" filter="url(#blur2)"/>
<circle cx="256" cy="1010" r="37" fill="url(#gNuc)"/>
<circle cx="256" cy="1010" r="37" fill="url(#nucShade)"/>
<ellipse cx="243.05" cy="989.65" rx="14.06" ry="7.4" transform="rotate(-25 243.05 989.65)" fill="#ffffff" fill-opacity="0.35" filter="url(#blur2)"/>


<clipPath id="oclip"><path d="M828.03,724.00 L828.33,725.51 L828.36,727.02 L828.14,728.52 L827.77,730.00 L828.60,731.60 L828.13,733.08 L827.66,734.54 L827.19,736.00 L826.70,737.44 L826.11,738.86 L825.41,740.24 L824.61,741.58 L823.77,742.90 L823.03,744.22 L822.49,745.59 L822.23,747.05 L822.24,748.63 L822.44,750.29 L822.67,752.01 L822.75,753.70 L822.50,755.27 L821.83,756.68 L820.75,757.87 L819.35,758.88 L817.78,759.77 L816.21,760.61 L814.77,761.49 L813.54,762.46 L812.50,763.55 L811.62,764.73 L810.79,765.95 L809.97,767.18 L809.10,768.38 L808.21,769.57 L807.32,770.78 L806.49,772.04 L805.72,773.38 L805.00,774.78 L804.23,776.18 L803.35,777.47 L802.25,778.57 L800.90,779.38 L799.32,779.89 L797.57,780.15 L795.77,780.29 L794.05,780.48 L792.50,780.86 L791.18,781.53 L790.06,782.52 L789.09,783.78 L788.17,785.17 L787.20,786.57 L786.13,787.83 L784.93,788.89 L783.61,789.75 L782.21,790.45 L780.76,791.04 L779.29,791.60 L777.81,792.12 L776.30,792.59 L774.76,792.94 L773.18,793.10 L771.54,793.07 L769.89,792.88 L768.26,792.64 L766.66,792.49 L765.13,792.57 L763.65,792.99 L762.21,793.75 L760.78,794.75 L759.31,795.84 L757.79,796.81 L756.22,797.48 L754.62,797.75 L753.00,797.59 L751.40,797.08 L749.83,796.37 L748.29,795.60 L746.77,794.91 L745.27,794.34 L743.77,793.89 L742.27,793.52 L740.77,793.15 L739.29,792.75 L737.81,792.33 L736.34,791.94 L734.84,791.64 L733.29,791.51 L731.67,791.55 L730.00,791.70 L728.30,791.83 L726.63,791.81 L725.06,791.48 L724.08,789.79 L722.77,788.93 L721.57,787.87 L720.44,786.72 L719.31,785.63 L718.12,784.68 L716.81,783.94 L715.39,783.38 L713.90,782.92 L712.40,782.44 L710.96,781.85 L709.63,781.09 L708.41,780.18 L707.28,779.17 L706.16,778.14 L705.00,777.18 L703.75,776.30 L702.42,775.51 L701.06,774.73 L699.74,773.88 L698.56,772.89 L697.56,771.74 L696.74,770.44 L696.05,769.06 L695.37,767.68 L694.59,766.40 L693.63,765.25 L692.47,764.23 L691.16,763.29 L689.80,762.35 L688.53,761.34 L687.45,760.19 L686.62,758.90 L686.02,757.48 L685.58,756.00 L685.18,754.52 L684.72,753.07 L684.14,751.68 L683.45,750.33 L682.73,748.99 L682.07,747.62 L681.56,746.20 L681.26,744.71 L681.12,743.19 L681.07,741.66 L680.99,740.15 L680.76,738.68 L680.34,737.26 L679.74,735.85 L679.07,734.44 L678.46,733.00 L678.07,731.53 L677.98,730.02 L678.20,728.50 L678.65,726.98 L679.21,725.48 L679.71,724.00 L680.05,722.54 L680.17,721.08 L680.11,719.61 L679.97,718.14 L679.89,716.65 L679.94,715.17 L680.19,713.72 L680.60,712.29 L681.08,710.88 L681.53,709.47 L681.85,708.04 L682.03,706.57 L680.92,704.75 L681.04,703.22 L681.43,701.76 L682.16,700.41 L683.22,699.18 L684.54,698.08 L685.94,697.04 L687.25,696.00 L688.29,694.88 L688.98,693.61 L689.31,692.16 L689.38,690.55 L689.33,688.85 L689.34,687.13 L689.54,685.49 L690.00,683.97 L690.71,682.60 L691.62,681.36 L692.65,680.19 L693.73,679.07 L694.82,677.97 L695.93,676.89 L697.10,675.87 L698.37,674.94 L699.75,674.14 L701.22,673.44 L702.70,672.78 L704.10,672.07 L705.34,671.19 L706.36,670.09 L707.19,668.73 L707.89,667.17 L708.59,665.54 L709.40,664.01 L710.42,662.72 L711.70,661.77 L713.23,661.20 L714.93,660.94 L716.71,660.88 L718.49,660.87 L720.18,660.78 L721.78,660.55 L723.28,660.17 L724.73,659.69 L726.16,659.16 L727.59,658.65 L729.03,658.17 L730.47,657.69 L731.89,657.15 L733.29,656.49 L734.66,655.69 L736.02,654.79 L737.42,653.90 L738.87,653.16 L740.39,652.72 L741.99,652.67 L743.62,653.03 L745.27,653.69 L746.90,654.50 L748.48,655.25 L750.01,655.77 L751.51,655.94 L753.00,655.75 L754.51,655.27 L756.04,654.65 L757.60,654.04 L759.18,653.56 L760.77,653.27 L762.36,653.17 L763.93,653.20 L765.50,653.30 L767.08,653.43 L768.65,653.59 L770.21,653.85 L771.72,654.26 L773.18,654.90 L774.54,655.76 L775.83,656.80 L777.08,657.88 L778.33,658.86 L779.66,659.60 L781.56,659.04 L783.10,659.36 L784.72,659.53 L786.39,659.68 L788.03,659.93 L789.57,660.39 L790.97,661.11 L792.86,661.06 L794.03,662.18 L795.06,663.45 L796.05,664.77 L797.03,666.04 L798.05,667.24 L799.11,668.37 L800.16,669.48 L801.19,670.61 L802.18,671.77 L803.13,672.95 L804.12,674.08 L805.21,675.11 L806.45,676.00 L807.88,676.75 L809.44,677.41 L811.03,678.09 L812.50,678.90 L813.72,679.93 L814.58,681.22 L815.06,682.75 L815.23,684.46 L815.23,686.23 L815.22,687.96 L815.90,689.27 L816.59,690.57 L817.46,691.77 L818.43,692.94 L819.38,694.13 L820.22,695.38 L820.87,696.72 L821.36,698.12 L821.75,699.55 L822.14,700.98 L822.62,702.37 L823.25,703.72 L823.98,705.05 L824.73,706.39 L825.39,707.76 L825.84,709.19 L826.03,710.68 L825.98,712.20 L825.80,713.72 L825.61,715.23 L825.58,716.71 L825.78,718.16 L826.23,719.59 L826.84,721.04 L827.50,722.51 Z"/></clipPath>
<path d="M828.03,724.00 L828.33,725.51 L828.36,727.02 L828.14,728.52 L827.77,730.00 L828.60,731.60 L828.13,733.08 L827.66,734.54 L827.19,736.00 L826.70,737.44 L826.11,738.86 L825.41,740.24 L824.61,741.58 L823.77,742.90 L823.03,744.22 L822.49,745.59 L822.23,747.05 L822.24,748.63 L822.44,750.29 L822.67,752.01 L822.75,753.70 L822.50,755.27 L821.83,756.68 L820.75,757.87 L819.35,758.88 L817.78,759.77 L816.21,760.61 L814.77,761.49 L813.54,762.46 L812.50,763.55 L811.62,764.73 L810.79,765.95 L809.97,767.18 L809.10,768.38 L808.21,769.57 L807.32,770.78 L806.49,772.04 L805.72,773.38 L805.00,774.78 L804.23,776.18 L803.35,777.47 L802.25,778.57 L800.90,779.38 L799.32,779.89 L797.57,780.15 L795.77,780.29 L794.05,780.48 L792.50,780.86 L791.18,781.53 L790.06,782.52 L789.09,783.78 L788.17,785.17 L787.20,786.57 L786.13,787.83 L784.93,788.89 L783.61,789.75 L782.21,790.45 L780.76,791.04 L779.29,791.60 L777.81,792.12 L776.30,792.59 L774.76,792.94 L773.18,793.10 L771.54,793.07 L769.89,792.88 L768.26,792.64 L766.66,792.49 L765.13,792.57 L763.65,792.99 L762.21,793.75 L760.78,794.75 L759.31,795.84 L757.79,796.81 L756.22,797.48 L754.62,797.75 L753.00,797.59 L751.40,797.08 L749.83,796.37 L748.29,795.60 L746.77,794.91 L745.27,794.34 L743.77,793.89 L742.27,793.52 L740.77,793.15 L739.29,792.75 L737.81,792.33 L736.34,791.94 L734.84,791.64 L733.29,791.51 L731.67,791.55 L730.00,791.70 L728.30,791.83 L726.63,791.81 L725.06,791.48 L724.08,789.79 L722.77,788.93 L721.57,787.87 L720.44,786.72 L719.31,785.63 L718.12,784.68 L716.81,783.94 L715.39,783.38 L713.90,782.92 L712.40,782.44 L710.96,781.85 L709.63,781.09 L708.41,780.18 L707.28,779.17 L706.16,778.14 L705.00,777.18 L703.75,776.30 L702.42,775.51 L701.06,774.73 L699.74,773.88 L698.56,772.89 L697.56,771.74 L696.74,770.44 L696.05,769.06 L695.37,767.68 L694.59,766.40 L693.63,765.25 L692.47,764.23 L691.16,763.29 L689.80,762.35 L688.53,761.34 L687.45,760.19 L686.62,758.90 L686.02,757.48 L685.58,756.00 L685.18,754.52 L684.72,753.07 L684.14,751.68 L683.45,750.33 L682.73,748.99 L682.07,747.62 L681.56,746.20 L681.26,744.71 L681.12,743.19 L681.07,741.66 L680.99,740.15 L680.76,738.68 L680.34,737.26 L679.74,735.85 L679.07,734.44 L678.46,733.00 L678.07,731.53 L677.98,730.02 L678.20,728.50 L678.65,726.98 L679.21,725.48 L679.71,724.00 L680.05,722.54 L680.17,721.08 L680.11,719.61 L679.97,718.14 L679.89,716.65 L679.94,715.17 L680.19,713.72 L680.60,712.29 L681.08,710.88 L681.53,709.47 L681.85,708.04 L682.03,706.57 L680.92,704.75 L681.04,703.22 L681.43,701.76 L682.16,700.41 L683.22,699.18 L684.54,698.08 L685.94,697.04 L687.25,696.00 L688.29,694.88 L688.98,693.61 L689.31,692.16 L689.38,690.55 L689.33,688.85 L689.34,687.13 L689.54,685.49 L690.00,683.97 L690.71,682.60 L691.62,681.36 L692.65,680.19 L693.73,679.07 L694.82,677.97 L695.93,676.89 L697.10,675.87 L698.37,674.94 L699.75,674.14 L701.22,673.44 L702.70,672.78 L704.10,672.07 L705.34,671.19 L706.36,670.09 L707.19,668.73 L707.89,667.17 L708.59,665.54 L709.40,664.01 L710.42,662.72 L711.70,661.77 L713.23,661.20 L714.93,660.94 L716.71,660.88 L718.49,660.87 L720.18,660.78 L721.78,660.55 L723.28,660.17 L724.73,659.69 L726.16,659.16 L727.59,658.65 L729.03,658.17 L730.47,657.69 L731.89,657.15 L733.29,656.49 L734.66,655.69 L736.02,654.79 L737.42,653.90 L738.87,653.16 L740.39,652.72 L741.99,652.67 L743.62,653.03 L745.27,653.69 L746.90,654.50 L748.48,655.25 L750.01,655.77 L751.51,655.94 L753.00,655.75 L754.51,655.27 L756.04,654.65 L757.60,654.04 L759.18,653.56 L760.77,653.27 L762.36,653.17 L763.93,653.20 L765.50,653.30 L767.08,653.43 L768.65,653.59 L770.21,653.85 L771.72,654.26 L773.18,654.90 L774.54,655.76 L775.83,656.80 L777.08,657.88 L778.33,658.86 L779.66,659.60 L781.56,659.04 L783.10,659.36 L784.72,659.53 L786.39,659.68 L788.03,659.93 L789.57,660.39 L790.97,661.11 L792.86,661.06 L794.03,662.18 L795.06,663.45 L796.05,664.77 L797.03,666.04 L798.05,667.24 L799.11,668.37 L800.16,669.48 L801.19,670.61 L802.18,671.77 L803.13,672.95 L804.12,674.08 L805.21,675.11 L806.45,676.00 L807.88,676.75 L809.44,677.41 L811.03,678.09 L812.50,678.90 L813.72,679.93 L814.58,681.22 L815.06,682.75 L815.23,684.46 L815.23,686.23 L815.22,687.96 L815.90,689.27 L816.59,690.57 L817.46,691.77 L818.43,692.94 L819.38,694.13 L820.22,695.38 L820.87,696.72 L821.36,698.12 L821.75,699.55 L822.14,700.98 L822.62,702.37 L823.25,703.72 L823.98,705.05 L824.73,706.39 L825.39,707.76 L825.84,709.19 L826.03,710.68 L825.98,712.20 L825.80,713.72 L825.61,715.23 L825.58,716.71 L825.78,718.16 L826.23,719.59 L826.84,721.04 L827.50,722.51 Z" fill="url(#oOuter)"/>
<g clip-path="url(#oclip)">
<g filter="url(#blurB2)">
<circle cx="695.3" cy="684.1" r="5.6" fill="#e8802a"/><circle cx="728.2" cy="657.6" r="5.3" fill="#ee8c34"/><circle cx="688.4" cy="707.1" r="3.3" fill="#e8802a"/><circle cx="707.7" cy="668.9" r="5.3" fill="#ee8c34"/><circle cx="716.8" cy="670.0" r="3.2" fill="#f09a3c"/><circle cx="686.2" cy="705.5" r="5.2" fill="#ee8c34"/><circle cx="693.6" cy="686.5" r="3.5" fill="#e4782a"/><circle cx="713.0" cy="674.3" r="3.4" fill="#ee8c34"/><circle cx="701.5" cy="683.7" r="3.3" fill="#e8802a"/><circle cx="715.4" cy="669.7" r="5.1" fill="#e4782a"/><circle cx="709.6" cy="681.2" r="4.4" fill="#ee8c34"/><circle cx="728.8" cy="665.2" r="4.0" fill="#e4782a"/><circle cx="712.5" cy="677.8" r="5.9" fill="#e4782a"/><circle cx="711.8" cy="666.0" r="5.0" fill="#ee8c34"/><circle cx="723.3" cy="660.4" r="5.0" fill="#e8802a"/><circle cx="739.9" cy="654.2" r="5.2" fill="#e4782a"/><circle cx="698.0" cy="684.3" r="5.0" fill="#f09a3c"/><circle cx="685.2" cy="703.5" r="4.1" fill="#e8802a"/><circle cx="692.0" cy="706.2" r="5.6" fill="#f09a3c"/><circle cx="695.8" cy="688.4" r="5.7" fill="#e8802a"/><circle cx="738.7" cy="657.8" r="5.4" fill="#f09a3c"/><circle cx="692.7" cy="706.6" r="3.5" fill="#ee8c34"/><circle cx="706.2" cy="684.9" r="5.0" fill="#ee8c34"/><circle cx="705.5" cy="679.0" r="6.5" fill="#f09a3c"/><circle cx="732.3" cy="658.5" r="4.7" fill="#e4782a"/><circle cx="719.1" cy="665.7" r="3.9" fill="#e8802a"/><circle cx="689.9" cy="695.5" r="3.9" fill="#f09a3c"/><circle cx="729.3" cy="658.3" r="4.1" fill="#ee8c34"/><circle cx="702.3" cy="679.4" r="5.3" fill="#ee8c34"/><circle cx="720.4" cy="666.8" r="5.5" fill="#e8802a"/><circle cx="708.7" cy="681.3" r="6.8" fill="#f09a3c"/><circle cx="701.4" cy="680.9" r="4.9" fill="#f09a3c"/><circle cx="684.7" cy="704.0" r="3.8" fill="#ee8c34"/><circle cx="692.0" cy="702.2" r="3.4" fill="#ee8c34"/><circle cx="713.7" cy="677.9" r="5.5" fill="#e8802a"/><circle cx="734.3" cy="662.1" r="3.6" fill="#e4782a"/><circle cx="740.5" cy="660.4" r="4.9" fill="#e8802a"/><circle cx="733.9" cy="667.0" r="4.9" fill="#f09a3c"/><circle cx="694.6" cy="684.9" r="6.0" fill="#e4782a"/><circle cx="708.4" cy="678.6" r="5.1" fill="#ee8c34"/>
<circle cx="747.5" cy="787.3" r="3.7" fill="#e8802a"/><circle cx="770.0" cy="789.0" r="6.2" fill="#e8802a"/><circle cx="777.3" cy="787.3" r="4.8" fill="#ee8c34"/><circle cx="809.5" cy="762.5" r="5.7" fill="#e4782a"/><circle cx="781.3" cy="779.4" r="6.9" fill="#ee8c34"/><circle cx="763.0" cy="782.1" r="6.7" fill="#ee8c34"/><circle cx="813.8" cy="744.2" r="6.7" fill="#e8802a"/><circle cx="765.7" cy="787.2" r="4.0" fill="#e4782a"/><circle cx="794.3" cy="763.3" r="7.9" fill="#e4782a"/><circle cx="823.0" cy="731.6" r="5.4" fill="#e4782a"/><circle cx="811.7" cy="744.0" r="7.5" fill="#e8802a"/><circle cx="795.1" cy="768.9" r="7.0" fill="#e8802a"/><circle cx="761.4" cy="793.6" r="4.9" fill="#ee8c34"/><circle cx="800.4" cy="774.4" r="6.9" fill="#e4782a"/><circle cx="809.5" cy="730.8" r="6.6" fill="#f09a3c"/><circle cx="797.2" cy="759.7" r="6.6" fill="#ee8c34"/><circle cx="741.4" cy="794.6" r="6.0" fill="#f09a3c"/><circle cx="764.8" cy="792.7" r="7.1" fill="#f09a3c"/><circle cx="781.0" cy="784.2" r="5.7" fill="#ee8c34"/><circle cx="812.2" cy="724.2" r="6.6" fill="#e8802a"/><circle cx="788.4" cy="768.8" r="5.2" fill="#ee8c34"/><circle cx="762.2" cy="792.0" r="4.3" fill="#e4782a"/><circle cx="792.1" cy="769.2" r="4.6" fill="#f09a3c"/><circle cx="761.5" cy="794.5" r="6.7" fill="#f09a3c"/><circle cx="777.4" cy="777.7" r="5.6" fill="#ee8c34"/><circle cx="792.0" cy="774.3" r="3.1" fill="#f09a3c"/><circle cx="766.8" cy="784.7" r="6.9" fill="#ee8c34"/><circle cx="815.1" cy="741.3" r="6.6" fill="#e8802a"/><circle cx="807.5" cy="757.0" r="5.8" fill="#e8802a"/><circle cx="755.4" cy="795.1" r="4.0" fill="#e8802a"/><circle cx="767.6" cy="786.2" r="5.8" fill="#e8802a"/><circle cx="798.3" cy="766.6" r="5.5" fill="#ee8c34"/><circle cx="776.6" cy="784.3" r="5.7" fill="#f09a3c"/><circle cx="796.9" cy="776.0" r="5.6" fill="#e4782a"/><circle cx="750.9" cy="781.7" r="4.0" fill="#f09a3c"/><circle cx="821.5" cy="738.6" r="5.2" fill="#e8802a"/><circle cx="779.0" cy="783.7" r="4.1" fill="#e4782a"/><circle cx="765.0" cy="780.4" r="3.8" fill="#e4782a"/><circle cx="809.5" cy="736.6" r="7.8" fill="#ee8c34"/><circle cx="772.2" cy="791.8" r="7.4" fill="#ee8c34"/><circle cx="743.9" cy="782.0" r="3.8" fill="#f09a3c"/><circle cx="742.3" cy="788.7" r="5.1" fill="#e4782a"/><circle cx="805.1" cy="754.7" r="3.1" fill="#f09a3c"/><circle cx="805.5" cy="772.8" r="4.7" fill="#e4782a"/><circle cx="798.4" cy="778.6" r="7.9" fill="#ee8c34"/><circle cx="744.3" cy="793.8" r="4.3" fill="#e8802a"/><circle cx="752.5" cy="793.1" r="6.8" fill="#f09a3c"/><circle cx="758.7" cy="784.9" r="7.7" fill="#f09a3c"/><circle cx="808.8" cy="737.1" r="5.9" fill="#e4782a"/><circle cx="823.5" cy="732.8" r="6.4" fill="#f09a3c"/><circle cx="753.8" cy="791.7" r="3.1" fill="#e8802a"/><circle cx="765.6" cy="793.5" r="7.3" fill="#e8802a"/><circle cx="816.5" cy="753.6" r="3.1" fill="#f09a3c"/><circle cx="750.0" cy="791.6" r="3.6" fill="#ee8c34"/><circle cx="749.4" cy="780.4" r="4.3" fill="#ee8c34"/>
<circle cx="780.5" cy="659.5" r="2.6" fill="#ee8c34"/><circle cx="783.9" cy="662.3" r="2.4" fill="#e4782a"/><circle cx="801.4" cy="679.1" r="2.1" fill="#e8802a"/><circle cx="801.0" cy="674.9" r="2.4" fill="#f09a3c"/><circle cx="782.1" cy="661.1" r="3.3" fill="#f09a3c"/><circle cx="798.3" cy="672.3" r="3.8" fill="#e4782a"/><circle cx="797.7" cy="675.3" r="2.7" fill="#ee8c34"/><circle cx="789.2" cy="664.2" r="2.1" fill="#ee8c34"/><circle cx="771.3" cy="658.3" r="3.8" fill="#f09a3c"/><circle cx="779.2" cy="657.5" r="3.7" fill="#e4782a"/>
<circle cx="684.5" cy="724.0" r="2.1" fill="#d89a5a"/><circle cx="684.5" cy="737.4" r="2.5" fill="#e0a060"/><circle cx="684.6" cy="712.8" r="2.5" fill="#e0a060"/><circle cx="682.9" cy="735.8" r="2.7" fill="#d89a5a"/><circle cx="683.6" cy="727.8" r="2.4" fill="#d89a5a"/><circle cx="686.8" cy="739.0" r="2.3" fill="#d89a5a"/><circle cx="682.8" cy="730.3" r="3.3" fill="#d89a5a"/><circle cx="683.6" cy="724.4" r="3.5" fill="#e0a060"/>
</g>
<g filter="url(#blurB1)" opacity="0.8">
<circle cx="723.8" cy="669.0" r="2.5" fill="#f6c070"/><circle cx="721.4" cy="669.7" r="1.6" fill="#eea050"/><circle cx="730.5" cy="665.2" r="3.0" fill="#eea050"/><circle cx="696.5" cy="694.4" r="2.5" fill="#f4b060"/><circle cx="726.7" cy="666.4" r="3.3" fill="#eea050"/><circle cx="734.2" cy="664.0" r="1.7" fill="#f4b060"/><circle cx="695.1" cy="694.1" r="1.7" fill="#f6c070"/><circle cx="713.1" cy="675.3" r="2.8" fill="#eea050"/><circle cx="698.0" cy="687.7" r="2.4" fill="#f4b060"/><circle cx="722.1" cy="668.0" r="2.6" fill="#eea050"/><circle cx="712.2" cy="677.2" r="2.4" fill="#f4b060"/><circle cx="726.7" cy="663.3" r="3.0" fill="#f4b060"/><circle cx="723.5" cy="671.5" r="2.5" fill="#f6c070"/><circle cx="697.6" cy="699.1" r="2.1" fill="#f4b060"/>
<circle cx="784.4" cy="777.0" r="1.7" fill="#f4b060"/><circle cx="802.4" cy="760.6" r="2.9" fill="#eea050"/><circle cx="791.5" cy="779.9" r="1.6" fill="#f6c070"/><circle cx="755.6" cy="791.0" r="1.9" fill="#f6c070"/><circle cx="805.5" cy="758.5" r="2.4" fill="#f6c070"/><circle cx="771.5" cy="779.0" r="2.6" fill="#f6c070"/><circle cx="754.8" cy="782.6" r="1.5" fill="#f6c070"/><circle cx="813.5" cy="741.5" r="3.5" fill="#f6c070"/><circle cx="797.4" cy="762.6" r="3.4" fill="#f4b060"/><circle cx="789.7" cy="779.5" r="2.5" fill="#f6c070"/><circle cx="809.0" cy="745.0" r="2.5" fill="#f4b060"/><circle cx="779.4" cy="784.1" r="3.3" fill="#f6c070"/><circle cx="802.7" cy="768.0" r="3.4" fill="#eea050"/><circle cx="798.1" cy="770.8" r="1.8" fill="#f6c070"/><circle cx="804.1" cy="767.0" r="2.2" fill="#f6c070"/><circle cx="773.3" cy="780.0" r="1.7" fill="#f4b060"/><circle cx="776.0" cy="778.3" r="2.1" fill="#f6c070"/><circle cx="814.9" cy="740.8" r="3.2" fill="#f4b060"/>
</g>
</g>
<path d="M828.03,724.00 L828.33,725.51 L828.36,727.02 L828.14,728.52 L827.77,730.00 L828.60,731.60 L828.13,733.08 L827.66,734.54 L827.19,736.00 L826.70,737.44 L826.11,738.86 L825.41,740.24 L824.61,741.58 L823.77,742.90 L823.03,744.22 L822.49,745.59 L822.23,747.05 L822.24,748.63 L822.44,750.29 L822.67,752.01 L822.75,753.70 L822.50,755.27 L821.83,756.68 L820.75,757.87 L819.35,758.88 L817.78,759.77 L816.21,760.61 L814.77,761.49 L813.54,762.46 L812.50,763.55 L811.62,764.73 L810.79,765.95 L809.97,767.18 L809.10,768.38 L808.21,769.57 L807.32,770.78 L806.49,772.04 L805.72,773.38 L805.00,774.78 L804.23,776.18 L803.35,777.47 L802.25,778.57 L800.90,779.38 L799.32,779.89 L797.57,780.15 L795.77,780.29 L794.05,780.48 L792.50,780.86 L791.18,781.53 L790.06,782.52 L789.09,783.78 L788.17,785.17 L787.20,786.57 L786.13,787.83 L784.93,788.89 L783.61,789.75 L782.21,790.45 L780.76,791.04 L779.29,791.60 L777.81,792.12 L776.30,792.59 L774.76,792.94 L773.18,793.10 L771.54,793.07 L769.89,792.88 L768.26,792.64 L766.66,792.49 L765.13,792.57 L763.65,792.99 L762.21,793.75 L760.78,794.75 L759.31,795.84 L757.79,796.81 L756.22,797.48 L754.62,797.75 L753.00,797.59 L751.40,797.08 L749.83,796.37 L748.29,795.60 L746.77,794.91 L745.27,794.34 L743.77,793.89 L742.27,793.52 L740.77,793.15 L739.29,792.75 L737.81,792.33 L736.34,791.94 L734.84,791.64 L733.29,791.51 L731.67,791.55 L730.00,791.70 L728.30,791.83 L726.63,791.81 L725.06,791.48 L724.08,789.79 L722.77,788.93 L721.57,787.87 L720.44,786.72 L719.31,785.63 L718.12,784.68 L716.81,783.94 L715.39,783.38 L713.90,782.92 L712.40,782.44 L710.96,781.85 L709.63,781.09 L708.41,780.18 L707.28,779.17 L706.16,778.14 L705.00,777.18 L703.75,776.30 L702.42,775.51 L701.06,774.73 L699.74,773.88 L698.56,772.89 L697.56,771.74 L696.74,770.44 L696.05,769.06 L695.37,767.68 L694.59,766.40 L693.63,765.25 L692.47,764.23 L691.16,763.29 L689.80,762.35 L688.53,761.34 L687.45,760.19 L686.62,758.90 L686.02,757.48 L685.58,756.00 L685.18,754.52 L684.72,753.07 L684.14,751.68 L683.45,750.33 L682.73,748.99 L682.07,747.62 L681.56,746.20 L681.26,744.71 L681.12,743.19 L681.07,741.66 L680.99,740.15 L680.76,738.68 L680.34,737.26 L679.74,735.85 L679.07,734.44 L678.46,733.00 L678.07,731.53 L677.98,730.02 L678.20,728.50 L678.65,726.98 L679.21,725.48 L679.71,724.00 L680.05,722.54 L680.17,721.08 L680.11,719.61 L679.97,718.14 L679.89,716.65 L679.94,715.17 L680.19,713.72 L680.60,712.29 L681.08,710.88 L681.53,709.47 L681.85,708.04 L682.03,706.57 L680.92,704.75 L681.04,703.22 L681.43,701.76 L682.16,700.41 L683.22,699.18 L684.54,698.08 L685.94,697.04 L687.25,696.00 L688.29,694.88 L688.98,693.61 L689.31,692.16 L689.38,690.55 L689.33,688.85 L689.34,687.13 L689.54,685.49 L690.00,683.97 L690.71,682.60 L691.62,681.36 L692.65,680.19 L693.73,679.07 L694.82,677.97 L695.93,676.89 L697.10,675.87 L698.37,674.94 L699.75,674.14 L701.22,673.44 L702.70,672.78 L704.10,672.07 L705.34,671.19 L706.36,670.09 L707.19,668.73 L707.89,667.17 L708.59,665.54 L709.40,664.01 L710.42,662.72 L711.70,661.77 L713.23,661.20 L714.93,660.94 L716.71,660.88 L718.49,660.87 L720.18,660.78 L721.78,660.55 L723.28,660.17 L724.73,659.69 L726.16,659.16 L727.59,658.65 L729.03,658.17 L730.47,657.69 L731.89,657.15 L733.29,656.49 L734.66,655.69 L736.02,654.79 L737.42,653.90 L738.87,653.16 L740.39,652.72 L741.99,652.67 L743.62,653.03 L745.27,653.69 L746.90,654.50 L748.48,655.25 L750.01,655.77 L751.51,655.94 L753.00,655.75 L754.51,655.27 L756.04,654.65 L757.60,654.04 L759.18,653.56 L760.77,653.27 L762.36,653.17 L763.93,653.20 L765.50,653.30 L767.08,653.43 L768.65,653.59 L770.21,653.85 L771.72,654.26 L773.18,654.90 L774.54,655.76 L775.83,656.80 L777.08,657.88 L778.33,658.86 L779.66,659.60 L781.56,659.04 L783.10,659.36 L784.72,659.53 L786.39,659.68 L788.03,659.93 L789.57,660.39 L790.97,661.11 L792.86,661.06 L794.03,662.18 L795.06,663.45 L796.05,664.77 L797.03,666.04 L798.05,667.24 L799.11,668.37 L800.16,669.48 L801.19,670.61 L802.18,671.77 L803.13,672.95 L804.12,674.08 L805.21,675.11 L806.45,676.00 L807.88,676.75 L809.44,677.41 L811.03,678.09 L812.50,678.90 L813.72,679.93 L814.58,681.22 L815.06,682.75 L815.23,684.46 L815.23,686.23 L815.22,687.96 L815.90,689.27 L816.59,690.57 L817.46,691.77 L818.43,692.94 L819.38,694.13 L820.22,695.38 L820.87,696.72 L821.36,698.12 L821.75,699.55 L822.14,700.98 L822.62,702.37 L823.25,703.72 L823.98,705.05 L824.73,706.39 L825.39,707.76 L825.84,709.19 L826.03,710.68 L825.98,712.20 L825.80,713.72 L825.61,715.23 L825.58,716.71 L825.78,718.16 L826.23,719.59 L826.84,721.04 L827.50,722.51 Z" fill="none" stroke="#9c8e70" stroke-width="1.2" opacity="0.8"/>
<circle cx="754" cy="723" r="36" fill="url(#oNuc)"/>
<circle cx="754" cy="723" r="36" fill="url(#nucShade)"/>
<ellipse cx="769" cy="746" rx="8" ry="5" fill="#b07a3a" fill-opacity="0.4" filter="url(#blurB2)"/>
<ellipse cx="741" cy="704" rx="13" ry="6" transform="rotate(-25 741 704)" fill="#ffffff" fill-opacity="0.4" filter="url(#blurB2)"/>

<circle cx="775.5" cy="992" r="69" fill="url(#yOuter)" stroke="#bb8a30" stroke-width="2"/>
<ellipse cx="736.5" cy="953.0" rx="22.1" ry="8.3" transform="rotate(-45 736.5 953.0)" fill="#fdeabc" fill-opacity="0.6" filter="url(#blur3)"/>
<ellipse cx="817.8" cy="1027.5" rx="19.3" ry="7.6" transform="rotate(-50 817.8 1027.5)" fill="#fbe880" fill-opacity="0.6" filter="url(#blur3)"/>
<circle cx="775.5" cy="992" r="68" fill="none" stroke="#bb8a30" stroke-opacity="0.35" stroke-width="4" filter="url(#blur2)"/>
<circle cx="775.5" cy="993.5" r="37" fill="url(#yNuc)"/>
<circle cx="775.5" cy="993.5" r="37" fill="url(#nucShade)"/>
<ellipse cx="762.55" cy="973.15" rx="14.06" ry="7.4" transform="rotate(-25 762.55 973.15)" fill="#ffffff" fill-opacity="0.35" filter="url(#blur2)"/>

<circle cx="1280.5" cy="1015.5" r="69" fill="url(#yOuter)" stroke="#bb8a30" stroke-width="2"/>
<ellipse cx="1241.5" cy="976.5" rx="22.1" ry="8.3" transform="rotate(-45 1241.5 976.5)" fill="#fdeabc" fill-opacity="0.6" filter="url(#blur3)"/>
<ellipse cx="1322.8" cy="1051.0" rx="19.3" ry="7.6" transform="rotate(-50 1322.8 1051.0)" fill="#fbe880" fill-opacity="0.6" filter="url(#blur3)"/>
<circle cx="1280.5" cy="1015.5" r="68" fill="none" stroke="#bb8a30" stroke-opacity="0.35" stroke-width="4" filter="url(#blur2)"/>
<circle cx="1280.5" cy="1015.5" r="37" fill="url(#yNuc)"/>
<circle cx="1280.5" cy="1015.5" r="37" fill="url(#nucShade)"/>
<ellipse cx="1267.55" cy="995.15" rx="14.06" ry="7.4" transform="rotate(-25 1267.55 995.15)" fill="#ffffff" fill-opacity="0.35" filter="url(#blur2)"/>


<clipPath id="rclip"><path d="M1366.12,626.50 L1367.53,628.33 L1368.51,630.22 L1368.96,632.12 L1368.83,634.00 L1368.16,635.80 L1367.04,637.51 L1365.59,639.12 L1363.97,640.63 L1362.33,642.06 L1360.79,643.46 L1359.45,644.85 L1358.33,646.27 L1357.44,647.73 L1356.73,649.24 L1356.15,650.79 L1355.63,652.38 L1355.14,653.99 L1354.63,655.61 L1354.11,657.24 L1353.58,658.88 L1353.05,660.54 L1352.53,662.23 L1352.01,663.96 L1351.47,665.71 L1350.85,667.44 L1350.10,669.09 L1349.14,670.61 L1347.93,671.91 L1346.42,672.92 L1344.61,673.61 L1342.55,673.97 L1340.31,674.05 L1338.00,673.92 L1335.72,673.70 L1333.60,673.55 L1331.72,673.60 L1330.13,673.97 L1328.83,674.75 L1327.81,675.96 L1326.98,677.56 L1326.25,679.46 L1325.53,681.51 L1324.71,683.54 L1323.72,685.40 L1322.53,686.93 L1321.13,688.05 L1319.53,688.72 L1317.79,688.96 L1315.96,688.83 L1314.10,688.45 L1312.25,687.92 L1310.44,687.36 L1308.69,686.86 L1307.00,686.49 L1305.37,686.25 L1303.77,686.14 L1302.19,686.15 L1300.63,686.23 L1299.07,686.36 L1297.50,686.54 L1295.92,686.78 L1294.32,687.12 L1292.69,687.57 L1291.02,688.17 L1289.28,688.91 L1287.48,689.77 L1285.61,690.68 L1283.68,691.52 L1281.73,692.19 L1279.80,692.55 L1277.95,692.51 L1276.22,691.98 L1274.67,690.97 L1273.31,689.52 L1272.13,687.74 L1271.11,685.77 L1270.17,683.79 L1269.23,681.98 L1268.20,680.46 L1266.99,679.34 L1265.55,678.65 L1263.83,678.34 L1261.87,678.34 L1259.71,678.52 L1257.43,678.72 L1255.14,678.81 L1252.95,678.67 L1250.94,678.21 L1249.20,677.40 L1247.74,676.26 L1246.56,674.84 L1245.64,673.20 L1244.91,671.42 L1244.31,669.57 L1243.80,667.71 L1243.32,665.86 L1242.86,664.05 L1242.42,662.27 L1242.00,660.51 L1241.62,658.76 L1241.27,657.03 L1240.94,655.32 L1240.58,653.65 L1240.15,652.03 L1239.57,650.50 L1238.79,649.04 L1237.77,647.65 L1236.51,646.32 L1235.05,645.00 L1233.49,643.65 L1231.96,642.24 L1230.60,640.72 L1229.58,639.09 L1229.02,637.35 L1228.99,635.52 L1229.53,633.64 L1230.57,631.77 L1231.99,629.93 L1233.64,628.17 L1235.30,626.50 L1236.80,624.91 L1237.97,623.38 L1238.70,621.87 L1238.94,620.35 L1238.74,618.76 L1238.17,617.10 L1237.37,615.36 L1236.49,613.53 L1235.68,611.66 L1235.07,609.77 L1234.73,607.91 L1234.71,606.10 L1235.00,604.37 L1235.56,602.72 L1236.32,601.16 L1237.24,599.67 L1238.25,598.24 L1239.34,596.87 L1240.49,595.54 L1241.70,594.28 L1242.98,593.09 L1244.35,591.99 L1245.80,590.97 L1247.29,590.02 L1248.77,589.11 L1250.19,588.19 L1251.46,587.18 L1252.54,586.01 L1253.38,584.63 L1253.98,582.98 L1254.39,581.07 L1254.67,578.94 L1254.94,576.67 L1255.29,574.38 L1255.85,572.22 L1256.69,570.33 L1257.87,568.84 L1259.39,567.82 L1261.23,567.31 L1263.30,567.26 L1265.51,567.58 L1267.75,568.12 L1269.94,568.72 L1272.00,569.23 L1273.88,569.48 L1275.58,569.40 L1277.12,568.95 L1278.54,568.14 L1279.89,567.04 L1281.23,565.77 L1282.60,564.43 L1284.03,563.14 L1285.54,561.99 L1287.13,561.04 L1288.79,560.31 L1290.49,559.79 L1292.22,559.46 L1293.98,559.30 L1295.74,559.26 L1297.50,559.36 L1299.25,559.60 L1300.98,560.01 L1302.68,560.63 L1304.33,561.47 L1305.92,562.55 L1307.43,563.82 L1308.86,565.21 L1310.22,566.64 L1311.55,567.96 L1312.89,569.07 L1314.28,569.85 L1315.78,570.23 L1317.43,570.21 L1319.25,569.83 L1321.23,569.20 L1323.34,568.47 L1325.49,567.81 L1327.62,567.39 L1329.61,567.35 L1331.40,567.79 L1332.90,568.73 L1334.10,570.14 L1335.01,571.93 L1335.66,573.97 L1336.16,576.12 L1336.60,578.22 L1337.07,580.16 L1337.69,581.87 L1338.50,583.29 L1339.54,584.46 L1340.81,585.40 L1342.26,586.20 L1343.84,586.92 L1345.49,587.64 L1347.15,588.40 L1348.78,589.24 L1350.35,590.18 L1351.87,591.19 L1353.33,592.29 L1354.75,593.45 L1356.12,594.67 L1357.43,595.96 L1358.63,597.34 L1359.67,598.82 L1360.48,600.41 L1361.00,602.12 L1361.19,603.94 L1361.06,605.85 L1360.63,607.80 L1360.02,609.75 L1359.34,611.65 L1358.74,613.48 L1358.38,615.22 L1358.39,616.86 L1358.85,618.42 L1359.76,619.96 L1361.09,621.50 L1362.71,623.08 L1364.45,624.75 Z"/></clipPath>
<path d="M1366.12,626.50 L1367.53,628.33 L1368.51,630.22 L1368.96,632.12 L1368.83,634.00 L1368.16,635.80 L1367.04,637.51 L1365.59,639.12 L1363.97,640.63 L1362.33,642.06 L1360.79,643.46 L1359.45,644.85 L1358.33,646.27 L1357.44,647.73 L1356.73,649.24 L1356.15,650.79 L1355.63,652.38 L1355.14,653.99 L1354.63,655.61 L1354.11,657.24 L1353.58,658.88 L1353.05,660.54 L1352.53,662.23 L1352.01,663.96 L1351.47,665.71 L1350.85,667.44 L1350.10,669.09 L1349.14,670.61 L1347.93,671.91 L1346.42,672.92 L1344.61,673.61 L1342.55,673.97 L1340.31,674.05 L1338.00,673.92 L1335.72,673.70 L1333.60,673.55 L1331.72,673.60 L1330.13,673.97 L1328.83,674.75 L1327.81,675.96 L1326.98,677.56 L1326.25,679.46 L1325.53,681.51 L1324.71,683.54 L1323.72,685.40 L1322.53,686.93 L1321.13,688.05 L1319.53,688.72 L1317.79,688.96 L1315.96,688.83 L1314.10,688.45 L1312.25,687.92 L1310.44,687.36 L1308.69,686.86 L1307.00,686.49 L1305.37,686.25 L1303.77,686.14 L1302.19,686.15 L1300.63,686.23 L1299.07,686.36 L1297.50,686.54 L1295.92,686.78 L1294.32,687.12 L1292.69,687.57 L1291.02,688.17 L1289.28,688.91 L1287.48,689.77 L1285.61,690.68 L1283.68,691.52 L1281.73,692.19 L1279.80,692.55 L1277.95,692.51 L1276.22,691.98 L1274.67,690.97 L1273.31,689.52 L1272.13,687.74 L1271.11,685.77 L1270.17,683.79 L1269.23,681.98 L1268.20,680.46 L1266.99,679.34 L1265.55,678.65 L1263.83,678.34 L1261.87,678.34 L1259.71,678.52 L1257.43,678.72 L1255.14,678.81 L1252.95,678.67 L1250.94,678.21 L1249.20,677.40 L1247.74,676.26 L1246.56,674.84 L1245.64,673.20 L1244.91,671.42 L1244.31,669.57 L1243.80,667.71 L1243.32,665.86 L1242.86,664.05 L1242.42,662.27 L1242.00,660.51 L1241.62,658.76 L1241.27,657.03 L1240.94,655.32 L1240.58,653.65 L1240.15,652.03 L1239.57,650.50 L1238.79,649.04 L1237.77,647.65 L1236.51,646.32 L1235.05,645.00 L1233.49,643.65 L1231.96,642.24 L1230.60,640.72 L1229.58,639.09 L1229.02,637.35 L1228.99,635.52 L1229.53,633.64 L1230.57,631.77 L1231.99,629.93 L1233.64,628.17 L1235.30,626.50 L1236.80,624.91 L1237.97,623.38 L1238.70,621.87 L1238.94,620.35 L1238.74,618.76 L1238.17,617.10 L1237.37,615.36 L1236.49,613.53 L1235.68,611.66 L1235.07,609.77 L1234.73,607.91 L1234.71,606.10 L1235.00,604.37 L1235.56,602.72 L1236.32,601.16 L1237.24,599.67 L1238.25,598.24 L1239.34,596.87 L1240.49,595.54 L1241.70,594.28 L1242.98,593.09 L1244.35,591.99 L1245.80,590.97 L1247.29,590.02 L1248.77,589.11 L1250.19,588.19 L1251.46,587.18 L1252.54,586.01 L1253.38,584.63 L1253.98,582.98 L1254.39,581.07 L1254.67,578.94 L1254.94,576.67 L1255.29,574.38 L1255.85,572.22 L1256.69,570.33 L1257.87,568.84 L1259.39,567.82 L1261.23,567.31 L1263.30,567.26 L1265.51,567.58 L1267.75,568.12 L1269.94,568.72 L1272.00,569.23 L1273.88,569.48 L1275.58,569.40 L1277.12,568.95 L1278.54,568.14 L1279.89,567.04 L1281.23,565.77 L1282.60,564.43 L1284.03,563.14 L1285.54,561.99 L1287.13,561.04 L1288.79,560.31 L1290.49,559.79 L1292.22,559.46 L1293.98,559.30 L1295.74,559.26 L1297.50,559.36 L1299.25,559.60 L1300.98,560.01 L1302.68,560.63 L1304.33,561.47 L1305.92,562.55 L1307.43,563.82 L1308.86,565.21 L1310.22,566.64 L1311.55,567.96 L1312.89,569.07 L1314.28,569.85 L1315.78,570.23 L1317.43,570.21 L1319.25,569.83 L1321.23,569.20 L1323.34,568.47 L1325.49,567.81 L1327.62,567.39 L1329.61,567.35 L1331.40,567.79 L1332.90,568.73 L1334.10,570.14 L1335.01,571.93 L1335.66,573.97 L1336.16,576.12 L1336.60,578.22 L1337.07,580.16 L1337.69,581.87 L1338.50,583.29 L1339.54,584.46 L1340.81,585.40 L1342.26,586.20 L1343.84,586.92 L1345.49,587.64 L1347.15,588.40 L1348.78,589.24 L1350.35,590.18 L1351.87,591.19 L1353.33,592.29 L1354.75,593.45 L1356.12,594.67 L1357.43,595.96 L1358.63,597.34 L1359.67,598.82 L1360.48,600.41 L1361.00,602.12 L1361.19,603.94 L1361.06,605.85 L1360.63,607.80 L1360.02,609.75 L1359.34,611.65 L1358.74,613.48 L1358.38,615.22 L1358.39,616.86 L1358.85,618.42 L1359.76,619.96 L1361.09,621.50 L1362.71,623.08 L1364.45,624.75 Z" fill="url(#rCell)"/>
<g clip-path="url(#rclip)">
<path d="M1366.12,626.50 L1367.53,628.33 L1368.51,630.22 L1368.96,632.12 L1368.83,634.00 L1368.16,635.80 L1367.04,637.51 L1365.59,639.12 L1363.97,640.63 L1362.33,642.06 L1360.79,643.46 L1359.45,644.85 L1358.33,646.27 L1357.44,647.73 L1356.73,649.24 L1356.15,650.79 L1355.63,652.38 L1355.14,653.99 L1354.63,655.61 L1354.11,657.24 L1353.58,658.88 L1353.05,660.54 L1352.53,662.23 L1352.01,663.96 L1351.47,665.71 L1350.85,667.44 L1350.10,669.09 L1349.14,670.61 L1347.93,671.91 L1346.42,672.92 L1344.61,673.61 L1342.55,673.97 L1340.31,674.05 L1338.00,673.92 L1335.72,673.70 L1333.60,673.55 L1331.72,673.60 L1330.13,673.97 L1328.83,674.75 L1327.81,675.96 L1326.98,677.56 L1326.25,679.46 L1325.53,681.51 L1324.71,683.54 L1323.72,685.40 L1322.53,686.93 L1321.13,688.05 L1319.53,688.72 L1317.79,688.96 L1315.96,688.83 L1314.10,688.45 L1312.25,687.92 L1310.44,687.36 L1308.69,686.86 L1307.00,686.49 L1305.37,686.25 L1303.77,686.14 L1302.19,686.15 L1300.63,686.23 L1299.07,686.36 L1297.50,686.54 L1295.92,686.78 L1294.32,687.12 L1292.69,687.57 L1291.02,688.17 L1289.28,688.91 L1287.48,689.77 L1285.61,690.68 L1283.68,691.52 L1281.73,692.19 L1279.80,692.55 L1277.95,692.51 L1276.22,691.98 L1274.67,690.97 L1273.31,689.52 L1272.13,687.74 L1271.11,685.77 L1270.17,683.79 L1269.23,681.98 L1268.20,680.46 L1266.99,679.34 L1265.55,678.65 L1263.83,678.34 L1261.87,678.34 L1259.71,678.52 L1257.43,678.72 L1255.14,678.81 L1252.95,678.67 L1250.94,678.21 L1249.20,677.40 L1247.74,676.26 L1246.56,674.84 L1245.64,673.20 L1244.91,671.42 L1244.31,669.57 L1243.80,667.71 L1243.32,665.86 L1242.86,664.05 L1242.42,662.27 L1242.00,660.51 L1241.62,658.76 L1241.27,657.03 L1240.94,655.32 L1240.58,653.65 L1240.15,652.03 L1239.57,650.50 L1238.79,649.04 L1237.77,647.65 L1236.51,646.32 L1235.05,645.00 L1233.49,643.65 L1231.96,642.24 L1230.60,640.72 L1229.58,639.09 L1229.02,637.35 L1228.99,635.52 L1229.53,633.64 L1230.57,631.77 L1231.99,629.93 L1233.64,628.17 L1235.30,626.50 L1236.80,624.91 L1237.97,623.38 L1238.70,621.87 L1238.94,620.35 L1238.74,618.76 L1238.17,617.10 L1237.37,615.36 L1236.49,613.53 L1235.68,611.66 L1235.07,609.77 L1234.73,607.91 L1234.71,606.10 L1235.00,604.37 L1235.56,602.72 L1236.32,601.16 L1237.24,599.67 L1238.25,598.24 L1239.34,596.87 L1240.49,595.54 L1241.70,594.28 L1242.98,593.09 L1244.35,591.99 L1245.80,590.97 L1247.29,590.02 L1248.77,589.11 L1250.19,588.19 L1251.46,587.18 L1252.54,586.01 L1253.38,584.63 L1253.98,582.98 L1254.39,581.07 L1254.67,578.94 L1254.94,576.67 L1255.29,574.38 L1255.85,572.22 L1256.69,570.33 L1257.87,568.84 L1259.39,567.82 L1261.23,567.31 L1263.30,567.26 L1265.51,567.58 L1267.75,568.12 L1269.94,568.72 L1272.00,569.23 L1273.88,569.48 L1275.58,569.40 L1277.12,568.95 L1278.54,568.14 L1279.89,567.04 L1281.23,565.77 L1282.60,564.43 L1284.03,563.14 L1285.54,561.99 L1287.13,561.04 L1288.79,560.31 L1290.49,559.79 L1292.22,559.46 L1293.98,559.30 L1295.74,559.26 L1297.50,559.36 L1299.25,559.60 L1300.98,560.01 L1302.68,560.63 L1304.33,561.47 L1305.92,562.55 L1307.43,563.82 L1308.86,565.21 L1310.22,566.64 L1311.55,567.96 L1312.89,569.07 L1314.28,569.85 L1315.78,570.23 L1317.43,570.21 L1319.25,569.83 L1321.23,569.20 L1323.34,568.47 L1325.49,567.81 L1327.62,567.39 L1329.61,567.35 L1331.40,567.79 L1332.90,568.73 L1334.10,570.14 L1335.01,571.93 L1335.66,573.97 L1336.16,576.12 L1336.60,578.22 L1337.07,580.16 L1337.69,581.87 L1338.50,583.29 L1339.54,584.46 L1340.81,585.40 L1342.26,586.20 L1343.84,586.92 L1345.49,587.64 L1347.15,588.40 L1348.78,589.24 L1350.35,590.18 L1351.87,591.19 L1353.33,592.29 L1354.75,593.45 L1356.12,594.67 L1357.43,595.96 L1358.63,597.34 L1359.67,598.82 L1360.48,600.41 L1361.00,602.12 L1361.19,603.94 L1361.06,605.85 L1360.63,607.80 L1360.02,609.75 L1359.34,611.65 L1358.74,613.48 L1358.38,615.22 L1358.39,616.86 L1358.85,618.42 L1359.76,619.96 L1361.09,621.50 L1362.71,623.08 L1364.45,624.75 Z" fill="none" stroke="#6e2426" stroke-width="9" filter="url(#blur3)" opacity="0.75"/>
<ellipse cx="1267.5" cy="594.5" rx="30" ry="16" transform="rotate(-20 1267.5 594.5)" fill="#c86c66" opacity="0.5" filter="url(#blur4)"/>
<path d="M1334.9,621.6 A40,40 0 0 1 1269.8,659.1" fill="none" stroke="#bc5a50" stroke-width="7" opacity="0.65" filter="url(#blur2)"/>
<path d="M1248.6,608.7 A52,52 0 0 1 1337.3,593.1" fill="none" stroke="#6e2226" stroke-width="2" opacity="0.5" filter="url(#blur1)"/>
<path d="M1346.4,644.3 A52,52 0 0 1 1271.5,671.5" fill="none" stroke="#6e2226" stroke-width="2" opacity="0.5" filter="url(#blur1)"/>
<ellipse cx="1294.5" cy="626.5" rx="35" ry="33" fill="url(#rCrater)" filter="url(#blur2)"/>
<ellipse cx="1311.5" cy="618.5" rx="14" ry="20" fill="#4e1014" opacity="0.55" filter="url(#blur4)"/>
<ellipse cx="1285.5" cy="648.5" rx="16" ry="8" fill="#4e1014" opacity="0.45" filter="url(#blur3)"/>
<path d="M1277.5,614.5 Q1297.5,622.5 1305.5,644.5" fill="none" stroke="#c8625c" stroke-width="4" opacity="0.3" filter="url(#blur2)"/>
<circle cx="1256.5" cy="627.5" r="2" fill="#6a1a1e"/>
<circle cx="1320.5" cy="664.5" r="3" fill="#6a1a1e" opacity="0.8" filter="url(#blur1)"/>
<circle cx="1307.5" cy="674.5" r="2.5" fill="#6a1a1e" opacity="0.8" filter="url(#blur1)"/>
<circle cx="1341.5" cy="633.5" r="2" fill="#6a1a1e"/>
<path d="M1309.5,571.5 q6,3 10,5" stroke="#6a1a1e" stroke-width="2" fill="none" opacity="0.8"/>
<path d="M1335.5,584.5 q6,4 8,10" stroke="#6a1a1e" stroke-width="2" fill="none" opacity="0.7"/>
</g>
<path d="M1366.12,626.50 L1367.53,628.33 L1368.51,630.22 L1368.96,632.12 L1368.83,634.00 L1368.16,635.80 L1367.04,637.51 L1365.59,639.12 L1363.97,640.63 L1362.33,642.06 L1360.79,643.46 L1359.45,644.85 L1358.33,646.27 L1357.44,647.73 L1356.73,649.24 L1356.15,650.79 L1355.63,652.38 L1355.14,653.99 L1354.63,655.61 L1354.11,657.24 L1353.58,658.88 L1353.05,660.54 L1352.53,662.23 L1352.01,663.96 L1351.47,665.71 L1350.85,667.44 L1350.10,669.09 L1349.14,670.61 L1347.93,671.91 L1346.42,672.92 L1344.61,673.61 L1342.55,673.97 L1340.31,674.05 L1338.00,673.92 L1335.72,673.70 L1333.60,673.55 L1331.72,673.60 L1330.13,673.97 L1328.83,674.75 L1327.81,675.96 L1326.98,677.56 L1326.25,679.46 L1325.53,681.51 L1324.71,683.54 L1323.72,685.40 L1322.53,686.93 L1321.13,688.05 L1319.53,688.72 L1317.79,688.96 L1315.96,688.83 L1314.10,688.45 L1312.25,687.92 L1310.44,687.36 L1308.69,686.86 L1307.00,686.49 L1305.37,686.25 L1303.77,686.14 L1302.19,686.15 L1300.63,686.23 L1299.07,686.36 L1297.50,686.54 L1295.92,686.78 L1294.32,687.12 L1292.69,687.57 L1291.02,688.17 L1289.28,688.91 L1287.48,689.77 L1285.61,690.68 L1283.68,691.52 L1281.73,692.19 L1279.80,692.55 L1277.95,692.51 L1276.22,691.98 L1274.67,690.97 L1273.31,689.52 L1272.13,687.74 L1271.11,685.77 L1270.17,683.79 L1269.23,681.98 L1268.20,680.46 L1266.99,679.34 L1265.55,678.65 L1263.83,678.34 L1261.87,678.34 L1259.71,678.52 L1257.43,678.72 L1255.14,678.81 L1252.95,678.67 L1250.94,678.21 L1249.20,677.40 L1247.74,676.26 L1246.56,674.84 L1245.64,673.20 L1244.91,671.42 L1244.31,669.57 L1243.80,667.71 L1243.32,665.86 L1242.86,664.05 L1242.42,662.27 L1242.00,660.51 L1241.62,658.76 L1241.27,657.03 L1240.94,655.32 L1240.58,653.65 L1240.15,652.03 L1239.57,650.50 L1238.79,649.04 L1237.77,647.65 L1236.51,646.32 L1235.05,645.00 L1233.49,643.65 L1231.96,642.24 L1230.60,640.72 L1229.58,639.09 L1229.02,637.35 L1228.99,635.52 L1229.53,633.64 L1230.57,631.77 L1231.99,629.93 L1233.64,628.17 L1235.30,626.50 L1236.80,624.91 L1237.97,623.38 L1238.70,621.87 L1238.94,620.35 L1238.74,618.76 L1238.17,617.10 L1237.37,615.36 L1236.49,613.53 L1235.68,611.66 L1235.07,609.77 L1234.73,607.91 L1234.71,606.10 L1235.00,604.37 L1235.56,602.72 L1236.32,601.16 L1237.24,599.67 L1238.25,598.24 L1239.34,596.87 L1240.49,595.54 L1241.70,594.28 L1242.98,593.09 L1244.35,591.99 L1245.80,590.97 L1247.29,590.02 L1248.77,589.11 L1250.19,588.19 L1251.46,587.18 L1252.54,586.01 L1253.38,584.63 L1253.98,582.98 L1254.39,581.07 L1254.67,578.94 L1254.94,576.67 L1255.29,574.38 L1255.85,572.22 L1256.69,570.33 L1257.87,568.84 L1259.39,567.82 L1261.23,567.31 L1263.30,567.26 L1265.51,567.58 L1267.75,568.12 L1269.94,568.72 L1272.00,569.23 L1273.88,569.48 L1275.58,569.40 L1277.12,568.95 L1278.54,568.14 L1279.89,567.04 L1281.23,565.77 L1282.60,564.43 L1284.03,563.14 L1285.54,561.99 L1287.13,561.04 L1288.79,560.31 L1290.49,559.79 L1292.22,559.46 L1293.98,559.30 L1295.74,559.26 L1297.50,559.36 L1299.25,559.60 L1300.98,560.01 L1302.68,560.63 L1304.33,561.47 L1305.92,562.55 L1307.43,563.82 L1308.86,565.21 L1310.22,566.64 L1311.55,567.96 L1312.89,569.07 L1314.28,569.85 L1315.78,570.23 L1317.43,570.21 L1319.25,569.83 L1321.23,569.20 L1323.34,568.47 L1325.49,567.81 L1327.62,567.39 L1329.61,567.35 L1331.40,567.79 L1332.90,568.73 L1334.10,570.14 L1335.01,571.93 L1335.66,573.97 L1336.16,576.12 L1336.60,578.22 L1337.07,580.16 L1337.69,581.87 L1338.50,583.29 L1339.54,584.46 L1340.81,585.40 L1342.26,586.20 L1343.84,586.92 L1345.49,587.64 L1347.15,588.40 L1348.78,589.24 L1350.35,590.18 L1351.87,591.19 L1353.33,592.29 L1354.75,593.45 L1356.12,594.67 L1357.43,595.96 L1358.63,597.34 L1359.67,598.82 L1360.48,600.41 L1361.00,602.12 L1361.19,603.94 L1361.06,605.85 L1360.63,607.80 L1360.02,609.75 L1359.34,611.65 L1358.74,613.48 L1358.38,615.22 L1358.39,616.86 L1358.85,618.42 L1359.76,619.96 L1361.09,621.50 L1362.71,623.08 L1364.45,624.75 Z" fill="none" stroke="#5a1a1d" stroke-width="2"/>


<!-- callout -->
<rect x="856" y="761" width="588" height="148" rx="14" ry="14" fill="none" stroke="#fbf6dc" stroke-width="4" filter="url(#blur2)"/>
<line x1="859" y1="905" x2="836" y2="929" stroke="#b5ae98" stroke-width="1.8"/>
<rect x="859.2" y="764.2" width="582" height="142" rx="12" ry="12" fill="#f4f3ea" stroke="url(#boxStroke)" stroke-width="2.6"/>

<circle cx="931" cy="836" r="55" fill="#eeede6"/>
<g stroke="#8e887a" stroke-width="0.8"><line x1="971.45" y1="837.92" x2="981.44" y2="838.40"/><line x1="971.36" y1="839.38" x2="981.32" y2="840.21"/><line x1="970.86" y1="843.18" x2="980.70" y2="844.96"/><line x1="970.57" y1="844.61" x2="980.34" y2="846.74"/><line x1="969.58" y1="848.33" x2="979.10" y2="851.37"/><line x1="969.11" y1="849.71" x2="978.52" y2="853.09"/><line x1="967.64" y1="853.26" x2="976.69" y2="857.52"/><line x1="967.00" y1="854.56" x2="975.88" y2="859.15"/><line x1="965.07" y1="857.89" x2="973.49" y2="863.30"/><line x1="964.26" y1="859.10" x2="972.48" y2="864.81"/><line x1="961.93" y1="862.15" x2="969.56" y2="868.61"/><line x1="960.96" y1="863.25" x2="968.36" y2="869.97"/><line x1="958.25" y1="865.96" x2="964.97" y2="873.36"/><line x1="957.15" y1="866.93" x2="963.61" y2="874.56"/><line x1="954.10" y1="869.26" x2="959.81" y2="877.48"/><line x1="952.89" y1="870.07" x2="958.30" y2="878.49"/><line x1="949.56" y1="872.00" x2="954.15" y2="880.88"/><line x1="948.26" y1="872.64" x2="952.52" y2="881.69"/><line x1="944.71" y1="874.11" x2="948.09" y2="883.52"/><line x1="943.33" y1="874.58" x2="946.37" y2="884.10"/><line x1="939.61" y1="875.57" x2="941.74" y2="885.34"/><line x1="938.18" y1="875.86" x2="939.96" y2="885.70"/><line x1="934.38" y1="876.36" x2="935.21" y2="886.32"/><line x1="932.92" y1="876.45" x2="933.40" y2="886.44"/><line x1="929.08" y1="876.45" x2="928.60" y2="886.44"/><line x1="927.62" y1="876.36" x2="926.79" y2="886.32"/><line x1="923.82" y1="875.86" x2="922.04" y2="885.70"/><line x1="922.39" y1="875.57" x2="920.26" y2="885.34"/><line x1="918.67" y1="874.58" x2="915.63" y2="884.10"/><line x1="917.29" y1="874.11" x2="913.91" y2="883.52"/><line x1="913.74" y1="872.64" x2="909.48" y2="881.69"/><line x1="912.44" y1="872.00" x2="907.85" y2="880.88"/><line x1="909.11" y1="870.07" x2="903.70" y2="878.49"/><line x1="907.90" y1="869.26" x2="902.19" y2="877.48"/><line x1="904.85" y1="866.93" x2="898.39" y2="874.56"/><line x1="903.75" y1="865.96" x2="897.03" y2="873.36"/><line x1="901.04" y1="863.25" x2="893.64" y2="869.97"/><line x1="900.07" y1="862.15" x2="892.44" y2="868.61"/><line x1="897.74" y1="859.10" x2="889.52" y2="864.81"/><line x1="896.93" y1="857.89" x2="888.51" y2="863.30"/><line x1="895.00" y1="854.56" x2="886.12" y2="859.15"/><line x1="894.36" y1="853.26" x2="885.31" y2="857.52"/><line x1="892.89" y1="849.71" x2="883.48" y2="853.09"/><line x1="892.42" y1="848.33" x2="882.90" y2="851.37"/><line x1="891.43" y1="844.61" x2="881.66" y2="846.74"/><line x1="891.14" y1="843.18" x2="881.30" y2="844.96"/><line x1="890.64" y1="839.38" x2="880.68" y2="840.21"/><line x1="890.55" y1="837.92" x2="880.56" y2="838.40"/><line x1="890.55" y1="834.08" x2="880.56" y2="833.60"/><line x1="890.64" y1="832.62" x2="880.68" y2="831.79"/><line x1="891.14" y1="828.82" x2="881.30" y2="827.04"/><line x1="891.43" y1="827.39" x2="881.66" y2="825.26"/><line x1="892.42" y1="823.67" x2="882.90" y2="820.63"/><line x1="892.89" y1="822.29" x2="883.48" y2="818.91"/><line x1="894.36" y1="818.74" x2="885.31" y2="814.48"/><line x1="895.00" y1="817.44" x2="886.12" y2="812.85"/><line x1="896.93" y1="814.11" x2="888.51" y2="808.70"/><line x1="897.74" y1="812.90" x2="889.52" y2="807.19"/><line x1="900.07" y1="809.85" x2="892.44" y2="803.39"/><line x1="901.04" y1="808.75" x2="893.64" y2="802.03"/><line x1="903.75" y1="806.04" x2="897.03" y2="798.64"/><line x1="904.85" y1="805.07" x2="898.39" y2="797.44"/><line x1="907.90" y1="802.74" x2="902.19" y2="794.52"/><line x1="909.11" y1="801.93" x2="903.70" y2="793.51"/><line x1="912.44" y1="800.00" x2="907.85" y2="791.12"/><line x1="913.74" y1="799.36" x2="909.48" y2="790.31"/><line x1="917.29" y1="797.89" x2="913.91" y2="788.48"/><line x1="918.67" y1="797.42" x2="915.63" y2="787.90"/><line x1="922.39" y1="796.43" x2="920.26" y2="786.66"/><line x1="923.82" y1="796.14" x2="922.04" y2="786.30"/><line x1="927.62" y1="795.64" x2="926.79" y2="785.68"/><line x1="929.08" y1="795.55" x2="928.60" y2="785.56"/><line x1="932.92" y1="795.55" x2="933.40" y2="785.56"/><line x1="934.38" y1="795.64" x2="935.21" y2="785.68"/><line x1="938.18" y1="796.14" x2="939.96" y2="786.30"/><line x1="939.61" y1="796.43" x2="941.74" y2="786.66"/><line x1="943.33" y1="797.42" x2="946.37" y2="787.90"/><line x1="944.71" y1="797.89" x2="948.09" y2="788.48"/><line x1="948.26" y1="799.36" x2="952.52" y2="790.31"/><line x1="949.56" y1="800.00" x2="954.15" y2="791.12"/><line x1="952.89" y1="801.93" x2="958.30" y2="793.51"/><line x1="954.10" y1="802.74" x2="959.81" y2="794.52"/><line x1="957.15" y1="805.07" x2="963.61" y2="797.44"/><line x1="958.25" y1="806.04" x2="964.97" y2="798.64"/><line x1="960.96" y1="808.75" x2="968.36" y2="802.03"/><line x1="961.93" y1="809.85" x2="969.56" y2="803.39"/><line x1="964.26" y1="812.90" x2="972.48" y2="807.19"/><line x1="965.07" y1="814.11" x2="973.49" y2="808.70"/><line x1="967.00" y1="817.44" x2="975.88" y2="812.85"/><line x1="967.64" y1="818.74" x2="976.69" y2="814.48"/><line x1="969.11" y1="822.29" x2="978.52" y2="818.91"/><line x1="969.58" y1="823.67" x2="979.10" y2="820.63"/><line x1="970.57" y1="827.39" x2="980.34" y2="825.26"/><line x1="970.86" y1="828.82" x2="980.70" y2="827.04"/><line x1="971.36" y1="832.62" x2="981.32" y2="831.79"/><line x1="971.45" y1="834.08" x2="981.44" y2="833.60"/></g>
<g fill="#c8b990" stroke="#574a30" stroke-width="1.15"><circle cx="984.60" cy="836.00" r="3.75"/><circle cx="984.10" cy="843.30" r="3.75"/><circle cx="982.61" cy="850.46" r="3.75"/><circle cx="980.16" cy="857.35" r="3.75"/><circle cx="976.80" cy="863.85" r="3.75"/><circle cx="972.58" cy="869.83" r="3.75"/><circle cx="967.58" cy="875.17" r="3.75"/><circle cx="961.91" cy="879.79" r="3.75"/><circle cx="955.66" cy="883.59" r="3.75"/><circle cx="948.95" cy="886.51" r="3.75"/><circle cx="941.91" cy="888.48" r="3.75"/><circle cx="934.66" cy="889.48" r="3.75"/><circle cx="927.34" cy="889.48" r="3.75"/><circle cx="920.09" cy="888.48" r="3.75"/><circle cx="913.05" cy="886.51" r="3.75"/><circle cx="906.34" cy="883.59" r="3.75"/><circle cx="900.09" cy="879.79" r="3.75"/><circle cx="894.42" cy="875.17" r="3.75"/><circle cx="889.42" cy="869.83" r="3.75"/><circle cx="885.20" cy="863.85" r="3.75"/><circle cx="881.84" cy="857.35" r="3.75"/><circle cx="879.39" cy="850.46" r="3.75"/><circle cx="877.90" cy="843.30" r="3.75"/><circle cx="877.40" cy="836.00" r="3.75"/><circle cx="877.90" cy="828.70" r="3.75"/><circle cx="879.39" cy="821.54" r="3.75"/><circle cx="881.84" cy="814.65" r="3.75"/><circle cx="885.20" cy="808.15" r="3.75"/><circle cx="889.42" cy="802.17" r="3.75"/><circle cx="894.42" cy="796.83" r="3.75"/><circle cx="900.09" cy="792.21" r="3.75"/><circle cx="906.34" cy="788.41" r="3.75"/><circle cx="913.05" cy="785.49" r="3.75"/><circle cx="920.09" cy="783.52" r="3.75"/><circle cx="927.34" cy="782.52" r="3.75"/><circle cx="934.66" cy="782.52" r="3.75"/><circle cx="941.91" cy="783.52" r="3.75"/><circle cx="948.95" cy="785.49" r="3.75"/><circle cx="955.66" cy="788.41" r="3.75"/><circle cx="961.91" cy="792.21" r="3.75"/><circle cx="967.58" cy="796.83" r="3.75"/><circle cx="972.58" cy="802.17" r="3.75"/><circle cx="976.80" cy="808.15" r="3.75"/><circle cx="980.16" cy="814.65" r="3.75"/><circle cx="982.61" cy="821.54" r="3.75"/><circle cx="984.10" cy="828.70" r="3.75"/></g>
<g fill="#c8b990" stroke="#574a30" stroke-width="1.0"><circle cx="968.48" cy="838.95" r="2.85"/><circle cx="967.56" cy="844.78" r="2.85"/><circle cx="965.74" cy="850.39" r="2.85"/><circle cx="963.06" cy="855.65" r="2.85"/><circle cx="959.59" cy="860.42" r="2.85"/><circle cx="955.42" cy="864.59" r="2.85"/><circle cx="950.65" cy="868.06" r="2.85"/><circle cx="945.39" cy="870.74" r="2.85"/><circle cx="939.78" cy="872.56" r="2.85"/><circle cx="933.95" cy="873.48" r="2.85"/><circle cx="928.05" cy="873.48" r="2.85"/><circle cx="922.22" cy="872.56" r="2.85"/><circle cx="916.61" cy="870.74" r="2.85"/><circle cx="911.35" cy="868.06" r="2.85"/><circle cx="906.58" cy="864.59" r="2.85"/><circle cx="902.41" cy="860.42" r="2.85"/><circle cx="898.94" cy="855.65" r="2.85"/><circle cx="896.26" cy="850.39" r="2.85"/><circle cx="894.44" cy="844.78" r="2.85"/><circle cx="893.52" cy="838.95" r="2.85"/><circle cx="893.52" cy="833.05" r="2.85"/><circle cx="894.44" cy="827.22" r="2.85"/><circle cx="896.26" cy="821.61" r="2.85"/><circle cx="898.94" cy="816.35" r="2.85"/><circle cx="902.41" cy="811.58" r="2.85"/><circle cx="906.58" cy="807.41" r="2.85"/><circle cx="911.35" cy="803.94" r="2.85"/><circle cx="916.61" cy="801.26" r="2.85"/><circle cx="922.22" cy="799.44" r="2.85"/><circle cx="928.05" cy="798.52" r="2.85"/><circle cx="933.95" cy="798.52" r="2.85"/><circle cx="939.78" cy="799.44" r="2.85"/><circle cx="945.39" cy="801.26" r="2.85"/><circle cx="950.65" cy="803.94" r="2.85"/><circle cx="955.42" cy="807.41" r="2.85"/><circle cx="959.59" cy="811.58" r="2.85"/><circle cx="963.06" cy="816.35" r="2.85"/><circle cx="965.74" cy="821.61" r="2.85"/><circle cx="967.56" cy="827.22" r="2.85"/><circle cx="968.48" cy="833.05" r="2.85"/></g>
<circle cx="931" cy="836" r="34.3" fill="#f4f4f0"/>


<g transform="translate(930.5,835.5) rotate(-45)">
<path d="M0,-11.5 L-16,-11.5 A11.5,11.5 0 0 0 -16,11.5 L0,11.5 Z" fill="url(#capg)"/>
<path d="M0,-11.5 L16,-11.5 A11.5,11.5 0 0 1 16,11.5 L0,11.5 Z" fill="#f7f7f3"/>
<rect x="-27.5" y="-11.5" width="55" height="23" rx="11.5" ry="11.5" fill="none" stroke="#2c2c28" stroke-width="1.9"/>
<line x1="0" y1="-11.5" x2="0" y2="11.5" stroke="#2c2c28" stroke-width="1.8"/>
<path d="M10,-6 L17.5,-6 A6,6 0 0 1 22,-3" fill="none" stroke="#2a2a24" stroke-width="1.7" stroke-linecap="round"/>
</g>

<g fill="#c8c8c0" opacity="0.8" filter="url(#blur1)"><circle cx="1394.5" cy="873" r="1.6"/><circle cx="1400.5" cy="873" r="1.6"/><path d="M1395,876 L1401,876 L1398.5,881 Z"/></g>
<text x="1001.5" y="811" font-size="28" font-weight="bold" fill="#33332c" textLength="253" lengthAdjust="spacingAndGlyphs">Moringas effekt:</text>
<text x="1000.5" y="846" font-size="28" fill="#3a3a32" stroke="#3a3a32" stroke-width="0.45" textLength="326.5" lengthAdjust="spacingAndGlyphs">Demper betennelse og</text>
<text x="1001" y="880.5" font-size="28" fill="#3a3a32" stroke="#3a3a32" stroke-width="0.45" textLength="345" lengthAdjust="spacingAndGlyphs">støtter ledd og muskler.</text>
</svg>
</body></html>
